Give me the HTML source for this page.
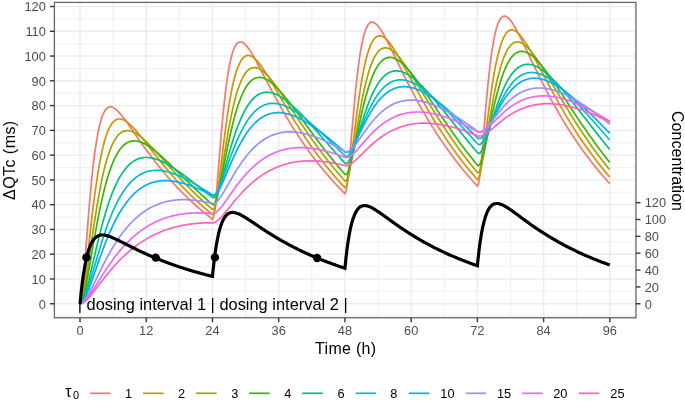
<!DOCTYPE html>
<html><head><meta charset="utf-8"><style>
html,body{margin:0;padding:0;background:#fff;}
svg{display:block;will-change:transform;font-family:"Liberation Sans",sans-serif;}
.tk{font-size:12.8px;fill:#4d4d4d;}
.ti{font-size:16px;fill:#000;}
.lg{font-size:12.8px;fill:#000;}
.ann{font-size:16.4px;fill:#000;}
</style></head><body>
<svg width="685" height="401" viewBox="0 0 685 401">
<rect width="685" height="401" fill="#fff"/>
<line x1="54.4" x2="635.96" y1="316.13" y2="316.13" stroke="#ebebeb" stroke-width="0.75"/>
<line x1="54.4" x2="635.96" y1="291.37" y2="291.37" stroke="#ebebeb" stroke-width="0.75"/>
<line x1="54.4" x2="635.96" y1="266.60" y2="266.60" stroke="#ebebeb" stroke-width="0.75"/>
<line x1="54.4" x2="635.96" y1="241.82" y2="241.82" stroke="#ebebeb" stroke-width="0.75"/>
<line x1="54.4" x2="635.96" y1="217.06" y2="217.06" stroke="#ebebeb" stroke-width="0.75"/>
<line x1="54.4" x2="635.96" y1="192.29" y2="192.29" stroke="#ebebeb" stroke-width="0.75"/>
<line x1="54.4" x2="635.96" y1="167.52" y2="167.52" stroke="#ebebeb" stroke-width="0.75"/>
<line x1="54.4" x2="635.96" y1="142.75" y2="142.75" stroke="#ebebeb" stroke-width="0.75"/>
<line x1="54.4" x2="635.96" y1="117.98" y2="117.98" stroke="#ebebeb" stroke-width="0.75"/>
<line x1="54.4" x2="635.96" y1="93.21" y2="93.21" stroke="#ebebeb" stroke-width="0.75"/>
<line x1="54.4" x2="635.96" y1="68.44" y2="68.44" stroke="#ebebeb" stroke-width="0.75"/>
<line x1="54.4" x2="635.96" y1="43.67" y2="43.67" stroke="#ebebeb" stroke-width="0.75"/>
<line x1="54.4" x2="635.96" y1="18.90" y2="18.90" stroke="#ebebeb" stroke-width="0.75"/>
<line y1="2.4" y2="317.76" x1="113.12" x2="113.12" stroke="#ebebeb" stroke-width="0.75"/>
<line y1="2.4" y2="317.76" x1="179.34" x2="179.34" stroke="#ebebeb" stroke-width="0.75"/>
<line y1="2.4" y2="317.76" x1="245.58" x2="245.58" stroke="#ebebeb" stroke-width="0.75"/>
<line y1="2.4" y2="317.76" x1="311.81" x2="311.81" stroke="#ebebeb" stroke-width="0.75"/>
<line y1="2.4" y2="317.76" x1="378.04" x2="378.04" stroke="#ebebeb" stroke-width="0.75"/>
<line y1="2.4" y2="317.76" x1="444.27" x2="444.27" stroke="#ebebeb" stroke-width="0.75"/>
<line y1="2.4" y2="317.76" x1="510.50" x2="510.50" stroke="#ebebeb" stroke-width="0.75"/>
<line y1="2.4" y2="317.76" x1="576.73" x2="576.73" stroke="#ebebeb" stroke-width="0.75"/>
<line x1="54.4" x2="635.96" y1="303.75" y2="303.75" stroke="#ebebeb" stroke-width="1.4"/>
<line x1="54.4" x2="635.96" y1="278.98" y2="278.98" stroke="#ebebeb" stroke-width="1.4"/>
<line x1="54.4" x2="635.96" y1="254.21" y2="254.21" stroke="#ebebeb" stroke-width="1.4"/>
<line x1="54.4" x2="635.96" y1="229.44" y2="229.44" stroke="#ebebeb" stroke-width="1.4"/>
<line x1="54.4" x2="635.96" y1="204.67" y2="204.67" stroke="#ebebeb" stroke-width="1.4"/>
<line x1="54.4" x2="635.96" y1="179.90" y2="179.90" stroke="#ebebeb" stroke-width="1.4"/>
<line x1="54.4" x2="635.96" y1="155.13" y2="155.13" stroke="#ebebeb" stroke-width="1.4"/>
<line x1="54.4" x2="635.96" y1="130.36" y2="130.36" stroke="#ebebeb" stroke-width="1.4"/>
<line x1="54.4" x2="635.96" y1="105.59" y2="105.59" stroke="#ebebeb" stroke-width="1.4"/>
<line x1="54.4" x2="635.96" y1="80.82" y2="80.82" stroke="#ebebeb" stroke-width="1.4"/>
<line x1="54.4" x2="635.96" y1="56.05" y2="56.05" stroke="#ebebeb" stroke-width="1.4"/>
<line x1="54.4" x2="635.96" y1="31.28" y2="31.28" stroke="#ebebeb" stroke-width="1.4"/>
<line x1="54.4" x2="635.96" y1="6.51" y2="6.51" stroke="#ebebeb" stroke-width="1.4"/>
<line y1="2.4" y2="317.76" x1="80.00" x2="80.00" stroke="#ebebeb" stroke-width="1.4"/>
<line y1="2.4" y2="317.76" x1="146.23" x2="146.23" stroke="#ebebeb" stroke-width="1.4"/>
<line y1="2.4" y2="317.76" x1="212.46" x2="212.46" stroke="#ebebeb" stroke-width="1.4"/>
<line y1="2.4" y2="317.76" x1="278.69" x2="278.69" stroke="#ebebeb" stroke-width="1.4"/>
<line y1="2.4" y2="317.76" x1="344.92" x2="344.92" stroke="#ebebeb" stroke-width="1.4"/>
<line y1="2.4" y2="317.76" x1="411.15" x2="411.15" stroke="#ebebeb" stroke-width="1.4"/>
<line y1="2.4" y2="317.76" x1="477.38" x2="477.38" stroke="#ebebeb" stroke-width="1.4"/>
<line y1="2.4" y2="317.76" x1="543.61" x2="543.61" stroke="#ebebeb" stroke-width="1.4"/>
<line y1="2.4" y2="317.76" x1="609.84" x2="609.84" stroke="#ebebeb" stroke-width="1.4"/>
<path d="M80.0,303.8L81.1,300.7L82.2,292.7L83.3,281.6L84.4,268.5L85.5,254.4L86.6,239.9L87.7,225.6L88.8,211.8L89.9,198.8L91.0,186.6L92.1,175.4L93.2,165.2L94.3,156.1L95.5,147.9L96.6,140.7L97.7,134.3L98.8,128.8L99.9,124.1L101.0,120.1L102.1,116.8L103.2,114.0L104.3,111.8L105.4,110.1L106.5,108.7L107.6,107.8L108.7,107.2L109.8,106.9L110.9,106.9L112.0,107.1L113.1,107.6L114.2,108.2L115.3,108.9L116.4,109.8L117.5,110.8L118.6,111.9L119.7,113.1L120.8,114.4L121.9,115.8L123.0,117.2L124.2,118.6L125.3,120.1L126.4,121.6L127.5,123.1L128.6,124.7L129.7,126.3L130.8,127.8L131.9,129.4L133.0,131.0L134.1,132.6L135.2,134.2L136.3,135.8L137.4,137.4L138.5,139.0L139.6,140.6L140.7,142.1L141.8,143.7L142.9,145.3L144.0,146.8L145.1,148.3L146.2,149.8L147.3,151.4L148.4,152.8L149.5,154.3L150.6,155.8L151.7,157.3L152.9,158.7L154.0,160.1L155.1,161.6L156.2,163.0L157.3,164.4L158.4,165.7L159.5,167.1L160.6,168.5L161.7,169.8L162.8,171.1L163.9,172.5L165.0,173.8L166.1,175.0L167.2,176.3L168.3,177.6L169.4,178.8L170.5,180.1L171.6,181.3L172.7,182.5L173.8,183.7L174.9,184.9L176.0,186.1L177.1,187.3L178.2,188.4L179.3,189.6L180.4,190.7L181.6,191.9L182.7,193.0L183.8,194.1L184.9,195.2L186.0,196.2L187.1,197.3L188.2,198.4L189.3,199.4L190.4,200.5L191.5,201.5L192.6,202.5L193.7,203.5L194.8,204.5L195.9,205.5L197.0,206.5L198.1,207.4L199.2,208.4L200.3,209.3L201.4,210.3L202.5,211.2L203.6,212.1L204.7,213.0L205.8,213.9L206.9,214.8L208.0,215.7L209.1,216.6L210.3,217.5L211.4,218.3L212.5,219.2L213.6,216.9L214.7,209.8L215.8,199.5L216.9,187.3L218.0,173.9L219.1,160.3L220.2,146.8L221.3,133.8L222.4,121.5L223.5,110.1L224.6,99.7L225.7,90.2L226.8,81.8L227.9,74.4L229.0,67.9L230.1,62.3L231.2,57.5L232.3,53.5L233.4,50.2L234.5,47.5L235.6,45.5L236.7,43.9L237.8,42.9L239.0,42.2L240.1,42.0L241.2,42.0L242.3,42.4L243.4,43.0L244.5,43.9L245.6,44.9L246.7,46.1L247.8,47.5L248.9,49.0L250.0,50.6L251.1,52.3L252.2,54.1L253.3,56.0L254.4,57.9L255.5,59.9L256.6,61.9L257.7,64.0L258.8,66.0L259.9,68.1L261.0,70.2L262.1,72.3L263.2,74.5L264.3,76.6L265.4,78.7L266.5,80.8L267.7,82.9L268.8,85.0L269.9,87.1L271.0,89.2L272.1,91.3L273.2,93.3L274.3,95.4L275.4,97.4L276.5,99.4L277.6,101.4L278.7,103.4L279.8,105.4L280.9,107.4L282.0,109.3L283.1,111.2L284.2,113.1L285.3,115.0L286.4,116.9L287.5,118.7L288.6,120.5L289.7,122.4L290.8,124.2L291.9,125.9L293.0,127.7L294.1,129.5L295.2,131.2L296.4,132.9L297.5,134.6L298.6,136.3L299.7,137.9L300.8,139.6L301.9,141.2L303.0,142.8L304.1,144.4L305.2,146.0L306.3,147.6L307.4,149.1L308.5,150.7L309.6,152.2L310.7,153.7L311.8,155.2L312.9,156.7L314.0,158.1L315.1,159.6L316.2,161.0L317.3,162.4L318.4,163.9L319.5,165.2L320.6,166.6L321.7,168.0L322.8,169.3L323.9,170.7L325.1,172.0L326.2,173.3L327.3,174.6L328.4,175.9L329.5,177.2L330.6,178.4L331.7,179.7L332.8,180.9L333.9,182.1L335.0,183.3L336.1,184.5L337.2,185.7L338.3,186.9L339.4,188.1L340.5,189.2L341.6,190.4L342.7,191.5L343.8,192.6L344.9,193.7L346.0,191.7L347.1,184.9L348.2,174.8L349.3,162.8L350.4,149.7L351.5,136.3L352.6,123.0L353.8,110.3L354.9,98.2L356.0,87.0L357.1,76.8L358.2,67.6L359.3,59.4L360.4,52.2L361.5,45.9L362.6,40.6L363.7,36.0L364.8,32.2L365.9,29.1L367.0,26.7L368.1,24.8L369.2,23.5L370.3,22.6L371.4,22.2L372.5,22.1L373.6,22.4L374.7,22.9L375.8,23.8L376.9,24.8L378.0,26.0L379.1,27.4L380.2,29.0L381.3,30.7L382.5,32.5L383.6,34.4L384.7,36.4L385.8,38.4L386.9,40.5L388.0,42.7L389.1,44.8L390.2,47.1L391.3,49.3L392.4,51.6L393.5,53.8L394.6,56.1L395.7,58.4L396.8,60.7L397.9,62.9L399.0,65.2L400.1,67.5L401.2,69.7L402.3,72.0L403.4,74.2L404.5,76.4L405.6,78.6L406.7,80.8L407.8,83.0L408.9,85.2L410.0,87.3L411.2,89.4L412.3,91.6L413.4,93.6L414.5,95.7L415.6,97.8L416.7,99.8L417.8,101.8L418.9,103.8L420.0,105.8L421.1,107.8L422.2,109.7L423.3,111.6L424.4,113.5L425.5,115.4L426.6,117.3L427.7,119.2L428.8,121.0L429.9,122.8L431.0,124.6L432.1,126.4L433.2,128.1L434.3,129.9L435.4,131.6L436.5,133.3L437.6,135.0L438.7,136.7L439.8,138.4L441.0,140.0L442.1,141.6L443.2,143.3L444.3,144.8L445.4,146.4L446.5,148.0L447.6,149.5L448.7,151.1L449.8,152.6L450.9,154.1L452.0,155.6L453.1,157.1L454.2,158.5L455.3,160.0L456.4,161.4L457.5,162.8L458.6,164.2L459.7,165.6L460.8,167.0L461.9,168.3L463.0,169.7L464.1,171.0L465.2,172.3L466.3,173.7L467.4,174.9L468.5,176.2L469.7,177.5L470.8,178.8L471.9,180.0L473.0,181.2L474.1,182.4L475.2,183.7L476.3,184.8L477.4,186.0L478.5,184.1L479.6,177.3L480.7,167.4L481.8,155.4L482.9,142.4L484.0,129.1L485.1,115.9L486.2,103.2L487.3,91.2L488.4,80.1L489.5,70.0L490.6,60.8L491.7,52.7L492.8,45.6L493.9,39.3L495.0,34.0L496.1,29.5L497.2,25.8L498.4,22.8L499.5,20.4L500.6,18.6L501.7,17.3L502.8,16.5L503.9,16.1L505.0,16.1L506.1,16.5L507.2,17.1L508.3,18.0L509.4,19.1L510.5,20.4L511.6,21.8L512.7,23.4L513.8,25.2L514.9,27.0L516.0,29.0L517.1,31.0L518.2,33.1L519.3,35.3L520.4,37.5L521.5,39.7L522.6,42.0L523.7,44.3L524.8,46.6L525.9,48.9L527.1,51.2L528.2,53.5L529.3,55.9L530.4,58.2L531.5,60.5L532.6,62.8L533.7,65.1L534.8,67.4L535.9,69.7L537.0,72.0L538.1,74.2L539.2,76.5L540.3,78.7L541.4,80.9L542.5,83.1L543.6,85.2L544.7,87.4L545.8,89.5L546.9,91.6L548.0,93.7L549.1,95.8L550.2,97.9L551.3,99.9L552.4,101.9L553.5,103.9L554.6,105.9L555.8,107.9L556.9,109.8L558.0,111.7L559.1,113.6L560.2,115.5L561.3,117.4L562.4,119.3L563.5,121.1L564.6,122.9L565.7,124.7L566.8,126.5L567.9,128.2L569.0,130.0L570.1,131.7L571.2,133.4L572.3,135.1L573.4,136.8L574.5,138.5L575.6,140.1L576.7,141.7L577.8,143.3L578.9,144.9L580.0,146.5L581.1,148.1L582.2,149.6L583.3,151.2L584.5,152.7L585.6,154.2L586.7,155.7L587.8,157.1L588.9,158.6L590.0,160.0L591.1,161.5L592.2,162.9L593.3,164.3L594.4,165.7L595.5,167.1L596.6,168.4L597.7,169.8L598.8,171.1L599.9,172.4L601.0,173.7L602.1,175.0L603.2,176.3L604.3,177.6L605.4,178.8L606.5,180.1L607.6,181.3L608.7,182.5L609.8,183.7" fill="none" stroke="#F8766D" stroke-width="1.7" stroke-linejoin="miter" stroke-miterlimit="6"/>
<path d="M80.0,303.8L81.1,302.2L82.2,297.9L83.3,291.6L84.4,283.8L85.5,274.9L86.6,265.4L87.7,255.5L88.8,245.4L89.9,235.3L91.0,225.5L92.1,215.9L93.2,206.7L94.3,198.0L95.5,189.7L96.6,181.9L97.7,174.7L98.8,167.9L99.9,161.8L101.0,156.1L102.1,150.9L103.2,146.2L104.3,142.0L105.4,138.2L106.5,134.8L107.6,131.9L108.7,129.3L109.8,127.0L110.9,125.1L112.0,123.5L113.1,122.1L114.2,121.1L115.3,120.2L116.4,119.6L117.5,119.2L118.6,119.0L119.7,119.0L120.8,119.1L121.9,119.3L123.0,119.7L124.2,120.2L125.3,120.9L126.4,121.6L127.5,122.4L128.6,123.3L129.7,124.2L130.8,125.3L131.9,126.3L133.0,127.5L134.1,128.6L135.2,129.9L136.3,131.1L137.4,132.4L138.5,133.7L139.6,135.0L140.7,136.4L141.8,137.7L142.9,139.1L144.0,140.5L145.1,141.9L146.2,143.3L147.3,144.7L148.4,146.1L149.5,147.6L150.6,149.0L151.7,150.4L152.9,151.8L154.0,153.2L155.1,154.6L156.2,156.0L157.3,157.4L158.4,158.8L159.5,160.2L160.6,161.5L161.7,162.9L162.8,164.3L163.9,165.6L165.0,166.9L166.1,168.3L167.2,169.6L168.3,170.9L169.4,172.2L170.5,173.5L171.6,174.7L172.7,176.0L173.8,177.3L174.9,178.5L176.0,179.7L177.1,181.0L178.2,182.2L179.3,183.4L180.4,184.6L181.6,185.7L182.7,186.9L183.8,188.0L184.9,189.2L186.0,190.3L187.1,191.5L188.2,192.6L189.3,193.7L190.4,194.8L191.5,195.8L192.6,196.9L193.7,198.0L194.8,199.0L195.9,200.1L197.0,201.1L198.1,202.1L199.2,203.1L200.3,204.1L201.4,205.1L202.5,206.1L203.6,207.1L204.7,208.0L205.8,209.0L206.9,209.9L208.0,210.8L209.1,211.8L210.3,212.7L211.4,213.6L212.5,214.5L213.6,213.8L214.7,210.4L215.8,204.9L216.9,198.0L218.0,190.0L219.1,181.3L220.2,172.2L221.3,163.0L222.4,153.8L223.5,144.7L224.6,135.9L225.7,127.5L226.8,119.6L227.9,112.1L229.0,105.1L230.1,98.6L231.2,92.6L232.3,87.2L233.4,82.3L234.5,77.8L235.6,73.8L236.7,70.3L237.8,67.3L239.0,64.6L240.1,62.3L241.2,60.4L242.3,58.9L243.4,57.6L244.5,56.7L245.6,56.0L246.7,55.6L247.8,55.4L248.9,55.4L250.0,55.7L251.1,56.1L252.2,56.7L253.3,57.4L254.4,58.3L255.5,59.3L256.6,60.4L257.7,61.6L258.8,62.9L259.9,64.3L261.0,65.8L262.1,67.3L263.2,68.9L264.3,70.5L265.4,72.2L266.5,74.0L267.7,75.7L268.8,77.5L269.9,79.3L271.0,81.2L272.1,83.0L273.2,84.9L274.3,86.8L275.4,88.6L276.5,90.5L277.6,92.4L278.7,94.3L279.8,96.2L280.9,98.1L282.0,100.0L283.1,101.9L284.2,103.8L285.3,105.7L286.4,107.5L287.5,109.4L288.6,111.2L289.7,113.1L290.8,114.9L291.9,116.7L293.0,118.5L294.1,120.3L295.2,122.1L296.4,123.9L297.5,125.6L298.6,127.3L299.7,129.1L300.8,130.8L301.9,132.5L303.0,134.1L304.1,135.8L305.2,137.5L306.3,139.1L307.4,140.7L308.5,142.3L309.6,143.9L310.7,145.5L311.8,147.1L312.9,148.6L314.0,150.2L315.1,151.7L316.2,153.2L317.3,154.7L318.4,156.1L319.5,157.6L320.6,159.1L321.7,160.5L322.8,161.9L323.9,163.3L325.1,164.7L326.2,166.1L327.3,167.5L328.4,168.8L329.5,170.2L330.6,171.5L331.7,172.8L332.8,174.1L333.9,175.4L335.0,176.7L336.1,177.9L337.2,179.2L338.3,180.4L339.4,181.6L340.5,182.9L341.6,184.1L342.7,185.3L343.8,186.4L344.9,187.6L346.0,187.2L347.1,184.0L348.2,178.8L349.3,172.2L350.4,164.4L351.5,156.0L352.6,147.2L353.8,138.2L354.9,129.2L356.0,120.4L357.1,111.9L358.2,103.7L359.3,96.0L360.4,88.7L361.5,81.9L362.6,75.7L363.7,70.0L364.8,64.7L365.9,60.0L367.0,55.8L368.1,52.0L369.2,48.8L370.3,45.9L371.4,43.4L372.5,41.4L373.6,39.7L374.7,38.3L375.8,37.3L376.9,36.6L378.0,36.1L379.1,35.9L380.2,35.9L381.3,36.1L382.5,36.5L383.6,37.2L384.7,37.9L385.8,38.8L386.9,39.9L388.0,41.1L389.1,42.4L390.2,43.8L391.3,45.3L392.4,46.8L393.5,48.5L394.6,50.2L395.7,51.9L396.8,53.7L397.9,55.6L399.0,57.5L400.1,59.4L401.2,61.4L402.3,63.3L403.4,65.3L404.5,67.3L405.6,69.4L406.7,71.4L407.8,73.4L408.9,75.5L410.0,77.5L411.2,79.6L412.3,81.6L413.4,83.7L414.5,85.7L415.6,87.7L416.7,89.8L417.8,91.8L418.9,93.8L420.0,95.8L421.1,97.8L422.2,99.7L423.3,101.7L424.4,103.6L425.5,105.6L426.6,107.5L427.7,109.4L428.8,111.3L429.9,113.2L431.0,115.0L432.1,116.9L433.2,118.7L434.3,120.5L435.4,122.3L436.5,124.1L437.6,125.9L438.7,127.6L439.8,129.3L441.0,131.1L442.1,132.8L443.2,134.5L444.3,136.1L445.4,137.8L446.5,139.4L447.6,141.1L448.7,142.7L449.8,144.3L450.9,145.9L452.0,147.4L453.1,149.0L454.2,150.5L455.3,152.0L456.4,153.5L457.5,155.0L458.6,156.5L459.7,158.0L460.8,159.4L461.9,160.8L463.0,162.3L464.1,163.7L465.2,165.1L466.3,166.4L467.4,167.8L468.5,169.2L469.7,170.5L470.8,171.8L471.9,173.1L473.0,174.4L474.1,175.7L475.2,177.0L476.3,178.2L477.4,179.5L478.5,179.1L479.6,176.1L480.7,171.0L481.8,164.4L482.9,156.7L484.0,148.4L485.1,139.6L486.2,130.7L487.3,121.8L488.4,113.1L489.5,104.6L490.6,96.5L491.7,88.9L492.8,81.7L493.9,75.0L495.0,68.8L496.1,63.1L497.2,58.0L498.4,53.3L499.5,49.2L500.6,45.5L501.7,42.3L502.8,39.5L503.9,37.1L505.0,35.1L506.1,33.4L507.2,32.2L508.3,31.2L509.4,30.5L510.5,30.1L511.6,29.9L512.7,30.0L513.8,30.3L514.9,30.8L516.0,31.4L517.1,32.3L518.2,33.3L519.3,34.4L520.4,35.6L521.5,37.0L522.6,38.4L523.7,39.9L524.8,41.6L525.9,43.3L527.1,45.0L528.2,46.8L529.3,48.7L530.4,50.6L531.5,52.5L532.6,54.5L533.7,56.5L534.8,58.5L535.9,60.6L537.0,62.6L538.1,64.7L539.2,66.8L540.3,68.9L541.4,70.9L542.5,73.0L543.6,75.1L544.7,77.2L545.8,79.3L546.9,81.4L548.0,83.5L549.1,85.5L550.2,87.6L551.3,89.6L552.4,91.7L553.5,93.7L554.6,95.7L555.8,97.7L556.9,99.7L558.0,101.7L559.1,103.6L560.2,105.6L561.3,107.5L562.4,109.4L563.5,111.3L564.6,113.2L565.7,115.1L566.8,116.9L567.9,118.7L569.0,120.6L570.1,122.4L571.2,124.1L572.3,125.9L573.4,127.7L574.5,129.4L575.6,131.1L576.7,132.8L577.8,134.5L578.9,136.2L580.0,137.9L581.1,139.5L582.2,141.1L583.3,142.7L584.5,144.3L585.6,145.9L586.7,147.5L587.8,149.0L588.9,150.6L590.0,152.1L591.1,153.6L592.2,155.1L593.3,156.6L594.4,158.0L595.5,159.5L596.6,160.9L597.7,162.3L598.8,163.7L599.9,165.1L601.0,166.5L602.1,167.9L603.2,169.2L604.3,170.6L605.4,171.9L606.5,173.2L607.6,174.5L608.7,175.8L609.8,177.1" fill="none" stroke="#D89000" stroke-width="1.7" stroke-linejoin="miter" stroke-miterlimit="6"/>
<path d="M80.0,303.8L81.1,302.7L82.2,299.7L83.3,295.3L84.4,289.8L85.5,283.4L86.6,276.4L87.7,269.0L88.8,261.3L89.9,253.5L91.0,245.6L92.1,237.8L93.2,230.2L94.3,222.7L95.5,215.5L96.6,208.6L97.7,202.0L98.8,195.7L99.9,189.7L101.0,184.0L102.1,178.7L103.2,173.7L104.3,169.1L105.4,164.8L106.5,160.8L107.6,157.1L108.7,153.7L109.8,150.6L110.9,147.8L112.0,145.2L113.1,142.9L114.2,140.8L115.3,139.0L116.4,137.4L117.5,136.0L118.6,134.7L119.7,133.7L120.8,132.8L121.9,132.1L123.0,131.6L124.2,131.1L125.3,130.9L126.4,130.7L127.5,130.7L128.6,130.7L129.7,130.9L130.8,131.2L131.9,131.5L133.0,131.9L134.1,132.5L135.2,133.0L136.3,133.7L137.4,134.4L138.5,135.1L139.6,135.9L140.7,136.8L141.8,137.7L142.9,138.6L144.0,139.6L145.1,140.6L146.2,141.7L147.3,142.7L148.4,143.8L149.5,144.9L150.6,146.0L151.7,147.2L152.9,148.4L154.0,149.5L155.1,150.7L156.2,151.9L157.3,153.1L158.4,154.3L159.5,155.6L160.6,156.8L161.7,158.0L162.8,159.2L163.9,160.5L165.0,161.7L166.1,163.0L167.2,164.2L168.3,165.4L169.4,166.7L170.5,167.9L171.6,169.1L172.7,170.3L173.8,171.5L174.9,172.7L176.0,174.0L177.1,175.2L178.2,176.3L179.3,177.5L180.4,178.7L181.6,179.9L182.7,181.1L183.8,182.2L184.9,183.4L186.0,184.5L187.1,185.6L188.2,186.8L189.3,187.9L190.4,189.0L191.5,190.1L192.6,191.2L193.7,192.3L194.8,193.4L195.9,194.4L197.0,195.5L198.1,196.5L199.2,197.6L200.3,198.6L201.4,199.6L202.5,200.7L203.6,201.7L204.7,202.7L205.8,203.7L206.9,204.6L208.0,205.6L209.1,206.6L210.3,207.5L211.4,208.5L212.5,209.4L213.6,209.3L214.7,207.3L215.8,203.8L216.9,199.1L218.0,193.7L219.1,187.5L220.2,181.0L221.3,174.2L222.4,167.2L223.5,160.2L224.6,153.2L225.7,146.4L226.8,139.8L227.9,133.4L229.0,127.3L230.1,121.5L231.2,116.0L232.3,110.8L233.4,105.9L234.5,101.4L235.6,97.2L236.7,93.3L237.8,89.7L239.0,86.5L240.1,83.5L241.2,80.9L242.3,78.5L243.4,76.4L244.5,74.5L245.6,72.9L246.7,71.5L247.8,70.4L248.9,69.5L250.0,68.7L251.1,68.2L252.2,67.8L253.3,67.6L254.4,67.5L255.5,67.6L256.6,67.8L257.7,68.1L258.8,68.6L259.9,69.2L261.0,69.9L262.1,70.6L263.2,71.5L264.3,72.4L265.4,73.5L266.5,74.6L267.7,75.7L268.8,76.9L269.9,78.2L271.0,79.5L272.1,80.9L273.2,82.3L274.3,83.7L275.4,85.2L276.5,86.7L277.6,88.2L278.7,89.8L279.8,91.4L280.9,93.0L282.0,94.6L283.1,96.2L284.2,97.8L285.3,99.5L286.4,101.2L287.5,102.8L288.6,104.5L289.7,106.2L290.8,107.9L291.9,109.6L293.0,111.2L294.1,112.9L295.2,114.6L296.4,116.3L297.5,118.0L298.6,119.6L299.7,121.3L300.8,122.9L301.9,124.6L303.0,126.2L304.1,127.9L305.2,129.5L306.3,131.1L307.4,132.8L308.5,134.4L309.6,135.9L310.7,137.5L311.8,139.1L312.9,140.7L314.0,142.2L315.1,143.8L316.2,145.3L317.3,146.8L318.4,148.3L319.5,149.8L320.6,151.3L321.7,152.8L322.8,154.2L323.9,155.7L325.1,157.1L326.2,158.5L327.3,160.0L328.4,161.4L329.5,162.7L330.6,164.1L331.7,165.5L332.8,166.8L333.9,168.2L335.0,169.5L336.1,170.8L337.2,172.1L338.3,173.4L339.4,174.7L340.5,176.0L341.6,177.2L342.7,178.5L343.8,179.7L344.9,180.9L346.0,181.1L347.1,179.3L348.2,176.1L349.3,171.8L350.4,166.6L351.5,160.7L352.6,154.4L353.8,147.9L354.9,141.2L356.0,134.4L357.1,127.7L358.2,121.2L359.3,114.8L360.4,108.7L361.5,102.8L362.6,97.2L363.7,92.0L364.8,87.0L365.9,82.4L367.0,78.1L368.1,74.1L369.2,70.4L370.3,67.1L371.4,64.1L372.5,61.3L373.6,58.9L374.7,56.7L375.8,54.9L376.9,53.2L378.0,51.8L379.1,50.7L380.2,49.7L381.3,49.0L382.5,48.4L383.6,48.1L384.7,47.9L385.8,47.9L386.9,48.0L388.0,48.3L389.1,48.7L390.2,49.2L391.3,49.9L392.4,50.7L393.5,51.5L394.6,52.5L395.7,53.5L396.8,54.6L397.9,55.8L399.0,57.1L400.1,58.4L401.2,59.8L402.3,61.3L403.4,62.7L404.5,64.3L405.6,65.8L406.7,67.4L407.8,69.1L408.9,70.7L410.0,72.4L411.2,74.2L412.3,75.9L413.4,77.6L414.5,79.4L415.6,81.2L416.7,83.0L417.8,84.8L418.9,86.6L420.0,88.4L421.1,90.2L422.2,92.1L423.3,93.9L424.4,95.7L425.5,97.5L426.6,99.3L427.7,101.2L428.8,103.0L429.9,104.8L431.0,106.6L432.1,108.4L433.2,110.2L434.3,111.9L435.4,113.7L436.5,115.5L437.6,117.2L438.7,119.0L439.8,120.7L441.0,122.4L442.1,124.1L443.2,125.8L444.3,127.5L445.4,129.2L446.5,130.9L447.6,132.5L448.7,134.2L449.8,135.8L450.9,137.4L452.0,139.0L453.1,140.6L454.2,142.2L455.3,143.8L456.4,145.3L457.5,146.9L458.6,148.4L459.7,149.9L460.8,151.4L461.9,152.9L463.0,154.4L464.1,155.8L465.2,157.3L466.3,158.7L467.4,160.1L468.5,161.5L469.7,162.9L470.8,164.3L471.9,165.7L473.0,167.1L474.1,168.4L475.2,169.7L476.3,171.1L477.4,172.4L478.5,172.6L479.6,170.9L480.7,167.8L481.8,163.6L482.9,158.4L484.0,152.6L485.1,146.4L486.2,140.0L487.3,133.3L488.4,126.7L489.5,120.1L490.6,113.6L491.7,107.3L492.8,101.2L493.9,95.4L495.0,89.9L496.1,84.7L497.2,79.8L498.4,75.3L499.5,71.0L500.6,67.1L501.7,63.6L502.8,60.3L503.9,57.3L505.0,54.7L506.1,52.3L507.2,50.2L508.3,48.4L509.4,46.8L510.5,45.5L511.6,44.4L512.7,43.5L513.8,42.8L514.9,42.3L516.0,42.0L517.1,41.9L518.2,42.0L519.3,42.2L520.4,42.5L521.5,43.0L522.6,43.6L523.7,44.3L524.8,45.1L525.9,46.0L527.1,47.0L528.2,48.1L529.3,49.3L530.4,50.5L531.5,51.9L532.6,53.2L533.7,54.7L534.8,56.2L535.9,57.7L537.0,59.3L538.1,60.9L539.2,62.5L540.3,64.2L541.4,65.9L542.5,67.7L543.6,69.4L544.7,71.2L545.8,73.0L546.9,74.8L548.0,76.7L549.1,78.5L550.2,80.4L551.3,82.2L552.4,84.1L553.5,85.9L554.6,87.8L555.8,89.7L556.9,91.5L558.0,93.4L559.1,95.2L560.2,97.1L561.3,99.0L562.4,100.8L563.5,102.6L564.6,104.5L565.7,106.3L566.8,108.1L567.9,109.9L569.0,111.7L570.1,113.5L571.2,115.3L572.3,117.1L573.4,118.8L574.5,120.6L575.6,122.3L576.7,124.0L577.8,125.8L578.9,127.5L580.0,129.1L581.1,130.8L582.2,132.5L583.3,134.1L584.5,135.8L585.6,137.4L586.7,139.0L587.8,140.6L588.9,142.2L590.0,143.8L591.1,145.3L592.2,146.9L593.3,148.4L594.4,149.9L595.5,151.4L596.6,152.9L597.7,154.4L598.8,155.9L599.9,157.3L601.0,158.7L602.1,160.2L603.2,161.6L604.3,163.0L605.4,164.4L606.5,165.7L607.6,167.1L608.7,168.5L609.8,169.8" fill="none" stroke="#A3A500" stroke-width="1.7" stroke-linejoin="miter" stroke-miterlimit="6"/>
<path d="M80.0,303.8L81.1,302.9L82.2,300.7L83.3,297.3L84.4,293.1L85.5,288.1L86.6,282.6L87.7,276.6L88.8,270.4L89.9,264.1L91.0,257.6L92.1,251.2L93.2,244.7L94.3,238.4L95.5,232.2L96.6,226.1L97.7,220.2L98.8,214.6L99.9,209.1L101.0,203.9L102.1,198.9L103.2,194.2L104.3,189.7L105.4,185.4L106.5,181.4L107.6,177.6L108.7,174.0L109.8,170.7L110.9,167.6L112.0,164.7L113.1,162.0L114.2,159.5L115.3,157.2L116.4,155.1L117.5,153.1L118.6,151.4L119.7,149.8L120.8,148.3L121.9,147.0L123.0,145.9L124.2,144.9L125.3,144.0L126.4,143.2L127.5,142.6L128.6,142.1L129.7,141.6L130.8,141.3L131.9,141.1L133.0,140.9L134.1,140.9L135.2,140.9L136.3,141.0L137.4,141.2L138.5,141.4L139.6,141.7L140.7,142.1L141.8,142.5L142.9,143.0L144.0,143.5L145.1,144.1L146.2,144.7L147.3,145.4L148.4,146.0L149.5,146.8L150.6,147.5L151.7,148.3L152.9,149.2L154.0,150.0L155.1,150.9L156.2,151.8L157.3,152.7L158.4,153.6L159.5,154.6L160.6,155.6L161.7,156.6L162.8,157.6L163.9,158.6L165.0,159.6L166.1,160.6L167.2,161.7L168.3,162.7L169.4,163.8L170.5,164.9L171.6,165.9L172.7,167.0L173.8,168.1L174.9,169.2L176.0,170.3L177.1,171.4L178.2,172.4L179.3,173.5L180.4,174.6L181.6,175.7L182.7,176.8L183.8,177.9L184.9,179.0L186.0,180.0L187.1,181.1L188.2,182.2L189.3,183.3L190.4,184.3L191.5,185.4L192.6,186.4L193.7,187.5L194.8,188.6L195.9,189.6L197.0,190.6L198.1,191.7L199.2,192.7L200.3,193.7L201.4,194.7L202.5,195.7L203.6,196.7L204.7,197.7L205.8,198.7L206.9,199.7L208.0,200.7L209.1,201.6L210.3,202.6L211.4,203.6L212.5,204.5L213.6,204.6L214.7,203.3L215.8,200.9L216.9,197.5L218.0,193.5L219.1,188.9L220.2,183.8L221.3,178.5L222.4,173.1L223.5,167.5L224.6,161.9L225.7,156.3L226.8,150.8L227.9,145.5L229.0,140.2L230.1,135.2L231.2,130.4L232.3,125.7L233.4,121.3L234.5,117.1L235.6,113.2L236.7,109.5L237.8,106.0L239.0,102.7L240.1,99.7L241.2,96.9L242.3,94.3L243.4,92.0L244.5,89.8L245.6,87.8L246.7,86.1L247.8,84.5L248.9,83.1L250.0,81.9L251.1,80.8L252.2,79.9L253.3,79.1L254.4,78.5L255.5,78.1L256.6,77.7L257.7,77.5L258.8,77.4L259.9,77.4L261.0,77.5L262.1,77.7L263.2,78.0L264.3,78.4L265.4,78.9L266.5,79.5L267.7,80.1L268.8,80.8L269.9,81.6L271.0,82.4L272.1,83.3L273.2,84.2L274.3,85.2L275.4,86.3L276.5,87.3L277.6,88.5L278.7,89.6L279.8,90.8L280.9,92.1L282.0,93.3L283.1,94.6L284.2,96.0L285.3,97.3L286.4,98.7L287.5,100.0L288.6,101.4L289.7,102.9L290.8,104.3L291.9,105.7L293.0,107.2L294.1,108.7L295.2,110.2L296.4,111.6L297.5,113.1L298.6,114.6L299.7,116.1L300.8,117.6L301.9,119.1L303.0,120.7L304.1,122.2L305.2,123.7L306.3,125.2L307.4,126.7L308.5,128.2L309.6,129.7L310.7,131.2L311.8,132.7L312.9,134.2L314.0,135.7L315.1,137.2L316.2,138.7L317.3,140.1L318.4,141.6L319.5,143.1L320.6,144.5L321.7,146.0L322.8,147.4L323.9,148.8L325.1,150.2L326.2,151.7L327.3,153.1L328.4,154.5L329.5,155.8L330.6,157.2L331.7,158.6L332.8,159.9L333.9,161.3L335.0,162.6L336.1,164.0L337.2,165.3L338.3,166.6L339.4,167.9L340.5,169.2L341.6,170.5L342.7,171.8L343.8,173.0L344.9,174.3L346.0,174.7L347.1,173.7L348.2,171.6L349.3,168.5L350.4,164.7L351.5,160.4L352.6,155.6L353.8,150.6L354.9,145.4L356.0,140.1L357.1,134.8L358.2,129.5L359.3,124.3L360.4,119.2L361.5,114.2L362.6,109.4L363.7,104.8L364.8,100.5L365.9,96.3L367.0,92.4L368.1,88.7L369.2,85.2L370.3,82.0L371.4,78.9L372.5,76.2L373.6,73.6L374.7,71.2L375.8,69.1L376.9,67.2L378.0,65.4L379.1,63.9L380.2,62.5L381.3,61.4L382.5,60.3L383.6,59.5L384.7,58.8L385.8,58.3L386.9,57.8L388.0,57.6L389.1,57.4L390.2,57.4L391.3,57.5L392.4,57.7L393.5,58.0L394.6,58.4L395.7,58.9L396.8,59.5L397.9,60.2L399.0,60.9L400.1,61.7L401.2,62.6L402.3,63.6L403.4,64.6L404.5,65.7L405.6,66.8L406.7,67.9L407.8,69.2L408.9,70.4L410.0,71.7L411.2,73.0L412.3,74.4L413.4,75.8L414.5,77.2L415.6,78.7L416.7,80.2L417.8,81.7L418.9,83.2L420.0,84.7L421.1,86.3L422.2,87.8L423.3,89.4L424.4,91.0L425.5,92.6L426.6,94.2L427.7,95.9L428.8,97.5L429.9,99.1L431.0,100.8L432.1,102.4L433.2,104.0L434.3,105.7L435.4,107.3L436.5,109.0L437.6,110.6L438.7,112.3L439.8,113.9L441.0,115.5L442.1,117.2L443.2,118.8L444.3,120.4L445.4,122.0L446.5,123.6L447.6,125.2L448.7,126.8L449.8,128.4L450.9,130.0L452.0,131.6L453.1,133.2L454.2,134.7L455.3,136.3L456.4,137.8L457.5,139.3L458.6,140.9L459.7,142.4L460.8,143.9L461.9,145.4L463.0,146.8L464.1,148.3L465.2,149.8L466.3,151.2L467.4,152.7L468.5,154.1L469.7,155.5L470.8,156.9L471.9,158.3L473.0,159.7L474.1,161.1L475.2,162.5L476.3,163.8L477.4,165.2L478.5,165.7L479.6,164.8L480.7,162.7L481.8,159.7L482.9,156.0L484.0,151.8L485.1,147.1L486.2,142.2L487.3,137.1L488.4,131.9L489.5,126.6L490.6,121.4L491.7,116.3L492.8,111.2L493.9,106.4L495.0,101.7L496.1,97.2L497.2,92.9L498.4,88.8L499.5,84.9L500.6,81.3L501.7,77.9L502.8,74.7L503.9,71.8L505.0,69.1L506.1,66.6L507.2,64.3L508.3,62.2L509.4,60.4L510.5,58.7L511.6,57.2L512.7,55.9L513.8,54.8L514.9,53.9L516.0,53.1L517.1,52.4L518.2,52.0L519.3,51.6L520.4,51.4L521.5,51.3L522.6,51.4L523.7,51.5L524.8,51.8L525.9,52.2L527.1,52.6L528.2,53.2L529.3,53.8L530.4,54.5L531.5,55.3L532.6,56.2L533.7,57.2L534.8,58.2L535.9,59.2L537.0,60.3L538.1,61.5L539.2,62.7L540.3,64.0L541.4,65.3L542.5,66.7L543.6,68.0L544.7,69.5L545.8,70.9L546.9,72.4L548.0,73.9L549.1,75.4L550.2,77.0L551.3,78.5L552.4,80.1L553.5,81.7L554.6,83.3L555.8,84.9L556.9,86.6L558.0,88.2L559.1,89.9L560.2,91.6L561.3,93.2L562.4,94.9L563.5,96.6L564.6,98.3L565.7,100.0L566.8,101.6L567.9,103.3L569.0,105.0L570.1,106.7L571.2,108.4L572.3,110.0L573.4,111.7L574.5,113.4L575.6,115.1L576.7,116.7L577.8,118.4L578.9,120.0L580.0,121.7L581.1,123.3L582.2,124.9L583.3,126.5L584.5,128.1L585.6,129.7L586.7,131.3L587.8,132.9L588.9,134.5L590.0,136.0L591.1,137.6L592.2,139.1L593.3,140.7L594.4,142.2L595.5,143.7L596.6,145.2L597.7,146.7L598.8,148.2L599.9,149.7L601.0,151.1L602.1,152.6L603.2,154.0L604.3,155.4L605.4,156.9L606.5,158.3L607.6,159.7L608.7,161.0L609.8,162.4" fill="none" stroke="#39B600" stroke-width="1.7" stroke-linejoin="miter" stroke-miterlimit="6"/>
<path d="M80.0,303.8L81.1,303.2L82.2,301.7L83.3,299.4L84.4,296.5L85.5,293.0L86.6,289.1L87.7,284.9L88.8,280.5L89.9,275.9L91.0,271.2L92.1,266.4L93.2,261.6L94.3,256.7L95.5,252.0L96.6,247.2L97.7,242.6L98.8,238.1L99.9,233.6L101.0,229.3L102.1,225.1L103.2,221.1L104.3,217.2L105.4,213.4L106.5,209.8L107.6,206.3L108.7,203.0L109.8,199.8L110.9,196.7L112.0,193.8L113.1,191.0L114.2,188.4L115.3,185.9L116.4,183.6L117.5,181.3L118.6,179.2L119.7,177.2L120.8,175.4L121.9,173.6L123.0,172.0L124.2,170.4L125.3,169.0L126.4,167.7L127.5,166.4L128.6,165.3L129.7,164.2L130.8,163.3L131.9,162.4L133.0,161.6L134.1,160.9L135.2,160.3L136.3,159.7L137.4,159.2L138.5,158.8L139.6,158.4L140.7,158.1L141.8,157.9L142.9,157.7L144.0,157.5L145.1,157.5L146.2,157.4L147.3,157.5L148.4,157.5L149.5,157.7L150.6,157.8L151.7,158.0L152.9,158.2L154.0,158.5L155.1,158.8L156.2,159.2L157.3,159.5L158.4,160.0L159.5,160.4L160.6,160.9L161.7,161.3L162.8,161.9L163.9,162.4L165.0,163.0L166.1,163.6L167.2,164.2L168.3,164.8L169.4,165.4L170.5,166.1L171.6,166.8L172.7,167.5L173.8,168.2L174.9,168.9L176.0,169.7L177.1,170.4L178.2,171.2L179.3,171.9L180.4,172.7L181.6,173.5L182.7,174.3L183.8,175.1L184.9,175.9L186.0,176.8L187.1,177.6L188.2,178.4L189.3,179.3L190.4,180.1L191.5,181.0L192.6,181.8L193.7,182.7L194.8,183.6L195.9,184.4L197.0,185.3L198.1,186.2L199.2,187.0L200.3,187.9L201.4,188.8L202.5,189.6L203.6,190.5L204.7,191.4L205.8,192.3L206.9,193.1L208.0,194.0L209.1,194.9L210.3,195.7L211.4,196.6L212.5,197.5L213.6,197.8L214.7,197.2L215.8,195.7L216.9,193.6L218.0,191.0L219.1,188.0L220.2,184.7L221.3,181.1L222.4,177.3L223.5,173.4L224.6,169.4L225.7,165.5L226.8,161.5L227.9,157.5L229.0,153.6L230.1,149.8L231.2,146.1L232.3,142.4L233.4,138.9L234.5,135.5L235.6,132.3L236.7,129.1L237.8,126.2L239.0,123.3L240.1,120.6L241.2,118.0L242.3,115.6L243.4,113.3L244.5,111.2L245.6,109.1L246.7,107.3L247.8,105.5L248.9,103.9L250.0,102.4L251.1,101.0L252.2,99.7L253.3,98.6L254.4,97.5L255.5,96.6L256.6,95.7L257.7,95.0L258.8,94.3L259.9,93.8L261.0,93.3L262.1,93.0L263.2,92.7L264.3,92.4L265.4,92.3L266.5,92.2L267.7,92.3L268.8,92.3L269.9,92.5L271.0,92.7L272.1,92.9L273.2,93.2L274.3,93.6L275.4,94.0L276.5,94.5L277.6,95.0L278.7,95.6L279.8,96.2L280.9,96.9L282.0,97.6L283.1,98.3L284.2,99.1L285.3,99.9L286.4,100.7L287.5,101.6L288.6,102.5L289.7,103.4L290.8,104.3L291.9,105.3L293.0,106.3L294.1,107.3L295.2,108.3L296.4,109.4L297.5,110.5L298.6,111.6L299.7,112.7L300.8,113.8L301.9,114.9L303.0,116.1L304.1,117.3L305.2,118.4L306.3,119.6L307.4,120.8L308.5,122.0L309.6,123.2L310.7,124.5L311.8,125.7L312.9,126.9L314.0,128.2L315.1,129.4L316.2,130.7L317.3,131.9L318.4,133.2L319.5,134.4L320.6,135.7L321.7,136.9L322.8,138.2L323.9,139.5L325.1,140.7L326.2,142.0L327.3,143.3L328.4,144.5L329.5,145.8L330.6,147.0L331.7,148.3L332.8,149.5L333.9,150.8L335.0,152.0L336.1,153.3L337.2,154.5L338.3,155.7L339.4,157.0L340.5,158.2L341.6,159.4L342.7,160.6L343.8,161.9L344.9,163.1L346.0,163.7L347.1,163.4L348.2,162.3L349.3,160.6L350.4,158.3L351.5,155.6L352.6,152.5L353.8,149.3L354.9,145.8L356.0,142.2L357.1,138.6L358.2,134.9L359.3,131.2L360.4,127.6L361.5,124.0L362.6,120.4L363.7,117.0L364.8,113.6L365.9,110.4L367.0,107.3L368.1,104.3L369.2,101.5L370.3,98.8L371.4,96.2L372.5,93.7L373.6,91.4L374.7,89.3L375.8,87.3L376.9,85.4L378.0,83.6L379.1,82.0L380.2,80.5L381.3,79.1L382.5,77.8L383.6,76.7L384.7,75.6L385.8,74.7L386.9,73.9L388.0,73.2L389.1,72.6L390.2,72.1L391.3,71.7L392.4,71.3L393.5,71.1L394.6,70.9L395.7,70.9L396.8,70.9L397.9,70.9L399.0,71.1L400.1,71.3L401.2,71.6L402.3,71.9L403.4,72.3L404.5,72.8L405.6,73.3L406.7,73.9L407.8,74.5L408.9,75.2L410.0,75.9L411.2,76.7L412.3,77.5L413.4,78.3L414.5,79.2L415.6,80.1L416.7,81.0L417.8,82.0L418.9,83.0L420.0,84.1L421.1,85.1L422.2,86.2L423.3,87.3L424.4,88.5L425.5,89.6L426.6,90.8L427.7,92.0L428.8,93.2L429.9,94.5L431.0,95.7L432.1,97.0L433.2,98.3L434.3,99.6L435.4,100.9L436.5,102.2L437.6,103.5L438.7,104.9L439.8,106.2L441.0,107.6L442.1,108.9L443.2,110.3L444.3,111.6L445.4,113.0L446.5,114.4L447.6,115.8L448.7,117.2L449.8,118.6L450.9,119.9L452.0,121.3L453.1,122.7L454.2,124.1L455.3,125.5L456.4,126.9L457.5,128.3L458.6,129.7L459.7,131.0L460.8,132.4L461.9,133.8L463.0,135.2L464.1,136.5L465.2,137.9L466.3,139.3L467.4,140.6L468.5,142.0L469.7,143.3L470.8,144.7L471.9,146.0L473.0,147.4L474.1,148.7L475.2,150.0L476.3,151.3L477.4,152.7L478.5,153.4L479.6,153.2L480.7,152.2L481.8,150.5L482.9,148.4L484.0,145.8L485.1,142.8L486.2,139.7L487.3,136.3L488.4,132.8L489.5,129.3L490.6,125.7L491.7,122.1L492.8,118.5L493.9,115.0L495.0,111.5L496.1,108.2L497.2,104.9L498.4,101.8L499.5,98.8L500.6,95.9L501.7,93.1L502.8,90.5L503.9,88.0L505.0,85.6L506.1,83.4L507.2,81.3L508.3,79.4L509.4,77.6L510.5,75.9L511.6,74.3L512.7,72.9L513.8,71.6L514.9,70.4L516.0,69.3L517.1,68.4L518.2,67.5L519.3,66.8L520.4,66.2L521.5,65.6L522.6,65.2L523.7,64.8L524.8,64.6L525.9,64.4L527.1,64.3L528.2,64.3L529.3,64.4L530.4,64.5L531.5,64.7L532.6,65.0L533.7,65.3L534.8,65.7L535.9,66.2L537.0,66.7L538.1,67.3L539.2,67.9L540.3,68.6L541.4,69.4L542.5,70.1L543.6,70.9L544.7,71.8L545.8,72.7L546.9,73.6L548.0,74.6L549.1,75.6L550.2,76.6L551.3,77.7L552.4,78.8L553.5,79.9L554.6,81.1L555.8,82.2L556.9,83.4L558.0,84.6L559.1,85.9L560.2,87.1L561.3,88.4L562.4,89.7L563.5,91.0L564.6,92.3L565.7,93.6L566.8,94.9L567.9,96.3L569.0,97.7L570.1,99.0L571.2,100.4L572.3,101.8L573.4,103.2L574.5,104.6L575.6,106.0L576.7,107.4L577.8,108.8L578.9,110.3L580.0,111.7L581.1,113.1L582.2,114.5L583.3,116.0L584.5,117.4L585.6,118.8L586.7,120.2L587.8,121.7L588.9,123.1L590.0,124.5L591.1,125.9L592.2,127.4L593.3,128.8L594.4,130.2L595.5,131.6L596.6,133.0L597.7,134.4L598.8,135.8L599.9,137.2L601.0,138.6L602.1,140.0L603.2,141.4L604.3,142.7L605.4,144.1L606.5,145.5L607.6,146.8L608.7,148.2L609.8,149.5" fill="none" stroke="#00BF7D" stroke-width="1.7" stroke-linejoin="miter" stroke-miterlimit="6"/>
<path d="M80.0,303.8L81.1,303.3L82.2,302.2L83.3,300.5L84.4,298.2L85.5,295.6L86.6,292.6L87.7,289.3L88.8,285.9L89.9,282.3L91.0,278.6L92.1,274.8L93.2,270.9L94.3,267.1L95.5,263.2L96.6,259.4L97.7,255.6L98.8,251.9L99.9,248.2L101.0,244.6L102.1,241.1L103.2,237.6L104.3,234.3L105.4,231.0L106.5,227.8L107.6,224.8L108.7,221.8L109.8,218.9L110.9,216.2L112.0,213.5L113.1,210.9L114.2,208.5L115.3,206.1L116.4,203.8L117.5,201.6L118.6,199.5L119.7,197.5L120.8,195.6L121.9,193.8L123.0,192.1L124.2,190.4L125.3,188.8L126.4,187.3L127.5,185.9L128.6,184.6L129.7,183.3L130.8,182.1L131.9,181.0L133.0,179.9L134.1,179.0L135.2,178.0L136.3,177.2L137.4,176.4L138.5,175.6L139.6,174.9L140.7,174.3L141.8,173.7L142.9,173.2L144.0,172.7L145.1,172.3L146.2,171.9L147.3,171.5L148.4,171.2L149.5,171.0L150.6,170.8L151.7,170.6L152.9,170.5L154.0,170.4L155.1,170.3L156.2,170.3L157.3,170.3L158.4,170.3L159.5,170.4L160.6,170.5L161.7,170.7L162.8,170.8L163.9,171.0L165.0,171.2L166.1,171.5L167.2,171.7L168.3,172.0L169.4,172.3L170.5,172.6L171.6,173.0L172.7,173.4L173.8,173.7L174.9,174.2L176.0,174.6L177.1,175.0L178.2,175.5L179.3,176.0L180.4,176.5L181.6,177.0L182.7,177.5L183.8,178.0L184.9,178.6L186.0,179.1L187.1,179.7L188.2,180.3L189.3,180.8L190.4,181.4L191.5,182.1L192.6,182.7L193.7,183.3L194.8,183.9L195.9,184.6L197.0,185.2L198.1,185.9L199.2,186.5L200.3,187.2L201.4,187.9L202.5,188.6L203.6,189.3L204.7,189.9L205.8,190.6L206.9,191.3L208.0,192.0L209.1,192.7L210.3,193.4L211.4,194.2L212.5,194.9L213.6,195.2L214.7,194.8L215.8,193.7L216.9,192.2L218.0,190.3L219.1,188.0L220.2,185.5L221.3,182.8L222.4,179.9L223.5,176.9L224.6,173.8L225.7,170.7L226.8,167.6L227.9,164.5L229.0,161.3L230.1,158.3L231.2,155.3L232.3,152.3L233.4,149.4L234.5,146.6L235.6,143.9L236.7,141.2L237.8,138.7L239.0,136.2L240.1,133.9L241.2,131.6L242.3,129.4L243.4,127.4L244.5,125.4L245.6,123.5L246.7,121.8L247.8,120.1L248.9,118.5L250.0,117.0L251.1,115.6L252.2,114.3L253.3,113.0L254.4,111.9L255.5,110.8L256.6,109.9L257.7,108.9L258.8,108.1L259.9,107.4L261.0,106.7L262.1,106.1L263.2,105.5L264.3,105.0L265.4,104.6L266.5,104.3L267.7,104.0L268.8,103.7L269.9,103.6L271.0,103.4L272.1,103.4L273.2,103.4L274.3,103.4L275.4,103.5L276.5,103.6L277.6,103.8L278.7,104.0L279.8,104.2L280.9,104.5L282.0,104.9L283.1,105.2L284.2,105.6L285.3,106.1L286.4,106.5L287.5,107.1L288.6,107.6L289.7,108.2L290.8,108.8L291.9,109.4L293.0,110.0L294.1,110.7L295.2,111.4L296.4,112.1L297.5,112.9L298.6,113.6L299.7,114.4L300.8,115.2L301.9,116.0L303.0,116.9L304.1,117.7L305.2,118.6L306.3,119.5L307.4,120.4L308.5,121.3L309.6,122.3L310.7,123.2L311.8,124.2L312.9,125.1L314.0,126.1L315.1,127.1L316.2,128.1L317.3,129.1L318.4,130.1L319.5,131.1L320.6,132.2L321.7,133.2L322.8,134.2L323.9,135.3L325.1,136.3L326.2,137.4L327.3,138.5L328.4,139.5L329.5,140.6L330.6,141.7L331.7,142.8L332.8,143.8L333.9,144.9L335.0,146.0L336.1,147.1L337.2,148.2L338.3,149.3L339.4,150.3L340.5,151.4L341.6,152.5L342.7,153.6L343.8,154.7L344.9,155.8L346.0,156.5L347.1,156.4L348.2,155.7L349.3,154.6L350.4,153.0L351.5,151.1L352.6,148.9L353.8,146.6L354.9,144.0L356.0,141.4L357.1,138.6L358.2,135.9L359.3,133.1L360.4,130.3L361.5,127.5L362.6,124.7L363.7,122.0L364.8,119.4L365.9,116.8L367.0,114.3L368.1,111.9L369.2,109.6L370.3,107.3L371.4,105.2L372.5,103.1L373.6,101.2L374.7,99.3L375.8,97.5L376.9,95.8L378.0,94.3L379.1,92.8L380.2,91.4L381.3,90.0L382.5,88.8L383.6,87.7L384.7,86.6L385.8,85.7L386.9,84.8L388.0,84.0L389.1,83.3L390.2,82.6L391.3,82.1L392.4,81.5L393.5,81.1L394.6,80.8L395.7,80.5L396.8,80.2L397.9,80.0L399.0,79.9L400.1,79.9L401.2,79.9L402.3,79.9L403.4,80.0L404.5,80.2L405.6,80.4L406.7,80.7L407.8,81.0L408.9,81.3L410.0,81.7L411.2,82.1L412.3,82.6L413.4,83.1L414.5,83.6L415.6,84.2L416.7,84.8L417.8,85.5L418.9,86.1L420.0,86.8L421.1,87.6L422.2,88.3L423.3,89.1L424.4,89.9L425.5,90.8L426.6,91.7L427.7,92.5L428.8,93.4L429.9,94.4L431.0,95.3L432.1,96.3L433.2,97.3L434.3,98.3L435.4,99.3L436.5,100.3L437.6,101.4L438.7,102.4L439.8,103.5L441.0,104.6L442.1,105.7L443.2,106.8L444.3,107.9L445.4,109.0L446.5,110.2L447.6,111.3L448.7,112.5L449.8,113.6L450.9,114.8L452.0,116.0L453.1,117.1L454.2,118.3L455.3,119.5L456.4,120.7L457.5,121.9L458.6,123.1L459.7,124.3L460.8,125.5L461.9,126.7L463.0,127.9L464.1,129.1L465.2,130.4L466.3,131.6L467.4,132.8L468.5,134.0L469.7,135.2L470.8,136.4L471.9,137.6L473.0,138.9L474.1,140.1L475.2,141.3L476.3,142.5L477.4,143.7L478.5,144.5L479.6,144.6L480.7,144.0L481.8,143.0L482.9,141.5L484.0,139.7L485.1,137.7L486.2,135.4L487.3,133.0L488.4,130.4L489.5,127.8L490.6,125.1L491.7,122.4L492.8,119.8L493.9,117.1L495.0,114.4L496.1,111.8L497.2,109.3L498.4,106.8L499.5,104.4L500.6,102.1L501.7,99.9L502.8,97.7L503.9,95.7L505.0,93.7L506.1,91.8L507.2,90.0L508.3,88.4L509.4,86.8L510.5,85.3L511.6,83.9L512.7,82.6L513.8,81.3L514.9,80.2L516.0,79.2L517.1,78.2L518.2,77.3L519.3,76.5L520.4,75.8L521.5,75.2L522.6,74.6L523.7,74.1L524.8,73.7L525.9,73.3L527.1,73.0L528.2,72.8L529.3,72.6L530.4,72.5L531.5,72.5L532.6,72.5L533.7,72.6L534.8,72.7L535.9,72.9L537.0,73.1L538.1,73.4L539.2,73.7L540.3,74.1L541.4,74.5L542.5,75.0L543.6,75.5L544.7,76.0L545.8,76.6L546.9,77.2L548.0,77.8L549.1,78.5L550.2,79.2L551.3,79.9L552.4,80.7L553.5,81.5L554.6,82.3L555.8,83.2L556.9,84.0L558.0,84.9L559.1,85.9L560.2,86.8L561.3,87.8L562.4,88.8L563.5,89.8L564.6,90.8L565.7,91.8L566.8,92.9L567.9,93.9L569.0,95.0L570.1,96.1L571.2,97.2L572.3,98.4L573.4,99.5L574.5,100.6L575.6,101.8L576.7,103.0L577.8,104.1L578.9,105.3L580.0,106.5L581.1,107.7L582.2,108.9L583.3,110.1L584.5,111.4L585.6,112.6L586.7,113.8L587.8,115.0L588.9,116.3L590.0,117.5L591.1,118.8L592.2,120.0L593.3,121.3L594.4,122.5L595.5,123.8L596.6,125.0L597.7,126.3L598.8,127.5L599.9,128.8L601.0,130.0L602.1,131.3L603.2,132.5L604.3,133.8L605.4,135.0L606.5,136.3L607.6,137.5L608.7,138.8L609.8,140.0" fill="none" stroke="#00BFC4" stroke-width="1.7" stroke-linejoin="miter" stroke-miterlimit="6"/>
<path d="M80.0,303.8L81.1,303.4L82.2,302.5L83.3,301.1L84.4,299.3L85.5,297.2L86.6,294.7L87.7,292.1L88.8,289.3L89.9,286.3L91.0,283.2L92.1,280.1L93.2,276.9L94.3,273.7L95.5,270.5L96.6,267.3L97.7,264.1L98.8,260.9L99.9,257.8L101.0,254.7L102.1,251.7L103.2,248.7L104.3,245.8L105.4,242.9L106.5,240.2L107.6,237.5L108.7,234.8L109.8,232.3L110.9,229.8L112.0,227.4L113.1,225.0L114.2,222.8L115.3,220.6L116.4,218.5L117.5,216.4L118.6,214.5L119.7,212.6L120.8,210.7L121.9,209.0L123.0,207.3L124.2,205.7L125.3,204.1L126.4,202.6L127.5,201.2L128.6,199.8L129.7,198.5L130.8,197.2L131.9,196.0L133.0,194.9L134.1,193.8L135.2,192.7L136.3,191.8L137.4,190.8L138.5,189.9L139.6,189.1L140.7,188.3L141.8,187.6L142.9,186.9L144.0,186.2L145.1,185.6L146.2,185.0L147.3,184.5L148.4,184.0L149.5,183.5L150.6,183.1L151.7,182.7L152.9,182.4L154.0,182.1L155.1,181.8L156.2,181.6L157.3,181.3L158.4,181.2L159.5,181.0L160.6,180.9L161.7,180.8L162.8,180.7L163.9,180.7L165.0,180.6L166.1,180.6L167.2,180.7L168.3,180.7L169.4,180.8L170.5,180.9L171.6,181.0L172.7,181.1L173.8,181.3L174.9,181.5L176.0,181.7L177.1,181.9L178.2,182.1L179.3,182.4L180.4,182.6L181.6,182.9L182.7,183.2L183.8,183.5L184.9,183.9L186.0,184.2L187.1,184.6L188.2,184.9L189.3,185.3L190.4,185.7L191.5,186.1L192.6,186.5L193.7,186.9L194.8,187.4L195.9,187.8L197.0,188.3L198.1,188.8L199.2,189.2L200.3,189.7L201.4,190.2L202.5,190.7L203.6,191.2L204.7,191.7L205.8,192.2L206.9,192.8L208.0,193.3L209.1,193.8L210.3,194.4L211.4,194.9L212.5,195.5L213.6,195.7L214.7,195.4L215.8,194.5L216.9,193.3L218.0,191.7L219.1,189.9L220.2,187.8L221.3,185.6L222.4,183.2L223.5,180.8L224.6,178.2L225.7,175.7L226.8,173.0L227.9,170.4L229.0,167.8L230.1,165.2L231.2,162.7L232.3,160.1L233.4,157.7L234.5,155.3L235.6,152.9L236.7,150.6L237.8,148.4L239.0,146.2L240.1,144.1L241.2,142.1L242.3,140.2L243.4,138.3L244.5,136.5L245.6,134.8L246.7,133.1L247.8,131.6L248.9,130.1L250.0,128.6L251.1,127.3L252.2,126.0L253.3,124.8L254.4,123.6L255.5,122.5L256.6,121.5L257.7,120.6L258.8,119.7L259.9,118.8L261.0,118.0L262.1,117.3L263.2,116.7L264.3,116.1L265.4,115.5L266.5,115.0L267.7,114.6L268.8,114.2L269.9,113.8L271.0,113.5L272.1,113.3L273.2,113.1L274.3,112.9L275.4,112.8L276.5,112.7L277.6,112.6L278.7,112.6L279.8,112.7L280.9,112.7L282.0,112.8L283.1,113.0L284.2,113.1L285.3,113.4L286.4,113.6L287.5,113.9L288.6,114.1L289.7,114.5L290.8,114.8L291.9,115.2L293.0,115.6L294.1,116.0L295.2,116.5L296.4,117.0L297.5,117.5L298.6,118.0L299.7,118.5L300.8,119.1L301.9,119.7L303.0,120.3L304.1,120.9L305.2,121.5L306.3,122.2L307.4,122.9L308.5,123.6L309.6,124.3L310.7,125.0L311.8,125.7L312.9,126.5L314.0,127.2L315.1,128.0L316.2,128.8L317.3,129.6L318.4,130.4L319.5,131.2L320.6,132.0L321.7,132.8L322.8,133.7L323.9,134.5L325.1,135.4L326.2,136.3L327.3,137.1L328.4,138.0L329.5,138.9L330.6,139.8L331.7,140.7L332.8,141.6L333.9,142.5L335.0,143.4L336.1,144.4L337.2,145.3L338.3,146.2L339.4,147.1L340.5,148.1L341.6,149.0L342.7,150.0L343.8,150.9L344.9,151.9L346.0,152.5L347.1,152.5L348.2,152.1L349.3,151.2L350.4,150.0L351.5,148.5L352.6,146.9L353.8,145.0L354.9,143.0L356.0,140.9L357.1,138.7L358.2,136.5L359.3,134.2L360.4,131.9L361.5,129.7L362.6,127.4L363.7,125.2L364.8,123.0L365.9,120.9L367.0,118.8L368.1,116.8L369.2,114.8L370.3,112.9L371.4,111.1L372.5,109.3L373.6,107.6L374.7,106.0L375.8,104.4L376.9,102.9L378.0,101.5L379.1,100.2L380.2,98.9L381.3,97.7L382.5,96.6L383.6,95.5L384.7,94.5L385.8,93.6L386.9,92.7L388.0,91.9L389.1,91.2L390.2,90.5L391.3,89.9L392.4,89.4L393.5,88.8L394.6,88.4L395.7,88.0L396.8,87.7L397.9,87.4L399.0,87.2L400.1,87.0L401.2,86.8L402.3,86.7L403.4,86.7L404.5,86.7L405.6,86.7L406.7,86.8L407.8,86.9L408.9,87.1L410.0,87.3L411.2,87.5L412.3,87.8L413.4,88.1L414.5,88.4L415.6,88.8L416.7,89.2L417.8,89.6L418.9,90.1L420.0,90.6L421.1,91.1L422.2,91.6L423.3,92.2L424.4,92.8L425.5,93.4L426.6,94.0L427.7,94.7L428.8,95.4L429.9,96.1L431.0,96.8L432.1,97.6L433.2,98.3L434.3,99.1L435.4,99.9L436.5,100.7L437.6,101.5L438.7,102.4L439.8,103.2L441.0,104.1L442.1,105.0L443.2,105.9L444.3,106.8L445.4,107.7L446.5,108.7L447.6,109.6L448.7,110.6L449.8,111.6L450.9,112.5L452.0,113.5L453.1,114.5L454.2,115.5L455.3,116.5L456.4,117.5L457.5,118.6L458.6,119.6L459.7,120.6L460.8,121.7L461.9,122.7L463.0,123.8L464.1,124.8L465.2,125.9L466.3,126.9L467.4,128.0L468.5,129.1L469.7,130.1L470.8,131.2L471.9,132.3L473.0,133.4L474.1,134.5L475.2,135.5L476.3,136.6L477.4,137.7L478.5,138.5L479.6,138.6L480.7,138.3L481.8,137.6L482.9,136.5L484.0,135.2L485.1,133.6L486.2,131.9L487.3,130.0L488.4,128.0L489.5,126.0L490.6,123.9L491.7,121.7L492.8,119.6L493.9,117.5L495.0,115.3L496.1,113.2L497.2,111.2L498.4,109.1L499.5,107.2L500.6,105.3L501.7,103.4L502.8,101.6L503.9,99.9L505.0,98.2L506.1,96.6L507.2,95.1L508.3,93.7L509.4,92.3L510.5,91.0L511.6,89.7L512.7,88.6L513.8,87.5L514.9,86.4L516.0,85.5L517.1,84.6L518.2,83.7L519.3,83.0L520.4,82.3L521.5,81.6L522.6,81.0L523.7,80.5L524.8,80.1L525.9,79.6L527.1,79.3L528.2,79.0L529.3,78.7L530.4,78.5L531.5,78.4L532.6,78.3L533.7,78.2L534.8,78.2L535.9,78.3L537.0,78.3L538.1,78.4L539.2,78.6L540.3,78.8L541.4,79.0L542.5,79.3L543.6,79.6L544.7,80.0L545.8,80.4L546.9,80.8L548.0,81.2L549.1,81.7L550.2,82.2L551.3,82.7L552.4,83.3L553.5,83.9L554.6,84.5L555.8,85.1L556.9,85.8L558.0,86.5L559.1,87.2L560.2,87.9L561.3,88.7L562.4,89.4L563.5,90.2L564.6,91.0L565.7,91.9L566.8,92.7L567.9,93.6L569.0,94.4L570.1,95.3L571.2,96.2L572.3,97.2L573.4,98.1L574.5,99.0L575.6,100.0L576.7,101.0L577.8,102.0L578.9,102.9L580.0,103.9L581.1,105.0L582.2,106.0L583.3,107.0L584.5,108.1L585.6,109.1L586.7,110.2L587.8,111.2L588.9,112.3L590.0,113.4L591.1,114.4L592.2,115.5L593.3,116.6L594.4,117.7L595.5,118.8L596.6,119.9L597.7,121.0L598.8,122.1L599.9,123.2L601.0,124.4L602.1,125.5L603.2,126.6L604.3,127.7L605.4,128.8L606.5,130.0L607.6,131.1L608.7,132.2L609.8,133.4" fill="none" stroke="#00B0F6" stroke-width="1.7" stroke-linejoin="miter" stroke-miterlimit="6"/>
<path d="M80.0,303.8L81.1,303.5L82.2,302.9L83.3,302.0L84.4,300.8L85.5,299.3L86.6,297.7L87.7,295.8L88.8,293.9L89.9,291.9L91.0,289.7L92.1,287.6L93.2,285.3L94.3,283.1L95.5,280.8L96.6,278.5L97.7,276.2L98.8,273.9L99.9,271.7L101.0,269.4L102.1,267.2L103.2,265.0L104.3,262.9L105.4,260.7L106.5,258.6L107.6,256.6L108.7,254.6L109.8,252.6L110.9,250.7L112.0,248.8L113.1,246.9L114.2,245.1L115.3,243.4L116.4,241.7L117.5,240.0L118.6,238.4L119.7,236.8L120.8,235.2L121.9,233.7L123.0,232.3L124.2,230.8L125.3,229.5L126.4,228.1L127.5,226.8L128.6,225.6L129.7,224.3L130.8,223.2L131.9,222.0L133.0,220.9L134.1,219.8L135.2,218.8L136.3,217.8L137.4,216.8L138.5,215.9L139.6,215.0L140.7,214.1L141.8,213.3L142.9,212.5L144.0,211.7L145.1,210.9L146.2,210.2L147.3,209.5L148.4,208.9L149.5,208.2L150.6,207.6L151.7,207.0L152.9,206.5L154.0,206.0L155.1,205.5L156.2,205.0L157.3,204.5L158.4,204.1L159.5,203.7L160.6,203.3L161.7,202.9L162.8,202.6L163.9,202.3L165.0,202.0L166.1,201.7L167.2,201.4L168.3,201.2L169.4,201.0L170.5,200.8L171.6,200.6L172.7,200.4L173.8,200.3L174.9,200.1L176.0,200.0L177.1,199.9L178.2,199.8L179.3,199.8L180.4,199.7L181.6,199.7L182.7,199.7L183.8,199.6L184.9,199.7L186.0,199.7L187.1,199.7L188.2,199.8L189.3,199.8L190.4,199.9L191.5,200.0L192.6,200.1L193.7,200.2L194.8,200.3L195.9,200.4L197.0,200.5L198.1,200.7L199.2,200.9L200.3,201.0L201.4,201.2L202.5,201.4L203.6,201.6L204.7,201.8L205.8,202.0L206.9,202.2L208.0,202.5L209.1,202.7L210.3,202.9L211.4,203.2L212.5,203.5L213.6,203.5L214.7,203.2L215.8,202.5L216.9,201.6L218.0,200.4L219.1,199.1L220.2,197.6L221.3,196.0L222.4,194.2L223.5,192.4L224.6,190.6L225.7,188.7L226.8,186.8L227.9,184.9L229.0,182.9L230.1,181.0L231.2,179.1L232.3,177.2L233.4,175.3L234.5,173.4L235.6,171.6L236.7,169.8L237.8,168.1L239.0,166.4L240.1,164.7L241.2,163.1L242.3,161.5L243.4,160.0L244.5,158.5L245.6,157.1L246.7,155.7L247.8,154.3L248.9,153.0L250.0,151.7L251.1,150.5L252.2,149.4L253.3,148.2L254.4,147.1L255.5,146.1L256.6,145.1L257.7,144.2L258.8,143.3L259.9,142.4L261.0,141.6L262.1,140.8L263.2,140.0L264.3,139.3L265.4,138.6L266.5,138.0L267.7,137.4L268.8,136.8L269.9,136.3L271.0,135.8L272.1,135.3L273.2,134.9L274.3,134.5L275.4,134.1L276.5,133.8L277.6,133.5L278.7,133.2L279.8,132.9L280.9,132.7L282.0,132.5L283.1,132.3L284.2,132.2L285.3,132.1L286.4,132.0L287.5,131.9L288.6,131.9L289.7,131.9L290.8,131.9L291.9,131.9L293.0,132.0L294.1,132.0L295.2,132.1L296.4,132.2L297.5,132.4L298.6,132.5L299.7,132.7L300.8,132.9L301.9,133.1L303.0,133.3L304.1,133.6L305.2,133.8L306.3,134.1L307.4,134.4L308.5,134.7L309.6,135.0L310.7,135.3L311.8,135.7L312.9,136.1L314.0,136.4L315.1,136.8L316.2,137.2L317.3,137.7L318.4,138.1L319.5,138.5L320.6,139.0L321.7,139.5L322.8,139.9L323.9,140.4L325.1,140.9L326.2,141.4L327.3,141.9L328.4,142.5L329.5,143.0L330.6,143.5L331.7,144.1L332.8,144.7L333.9,145.2L335.0,145.8L336.1,146.4L337.2,147.0L338.3,147.6L339.4,148.2L340.5,148.8L341.6,149.4L342.7,150.0L343.8,150.7L344.9,151.3L346.0,151.7L347.1,151.8L348.2,151.5L349.3,150.9L350.4,150.1L351.5,149.1L352.6,148.0L353.8,146.7L354.9,145.4L356.0,143.9L357.1,142.4L358.2,140.9L359.3,139.3L360.4,137.7L361.5,136.1L362.6,134.6L363.7,133.0L364.8,131.4L365.9,129.9L367.0,128.4L368.1,126.9L369.2,125.4L370.3,124.0L371.4,122.6L372.5,121.3L373.6,120.0L374.7,118.8L375.8,117.6L376.9,116.4L378.0,115.3L379.1,114.2L380.2,113.1L381.3,112.2L382.5,111.2L383.6,110.3L384.7,109.4L385.8,108.6L386.9,107.8L388.0,107.1L389.1,106.4L390.2,105.8L391.3,105.1L392.4,104.6L393.5,104.0L394.6,103.5L395.7,103.1L396.8,102.6L397.9,102.3L399.0,101.9L400.1,101.6L401.2,101.3L402.3,101.0L403.4,100.8L404.5,100.6L405.6,100.5L406.7,100.3L407.8,100.2L408.9,100.2L410.0,100.1L411.2,100.1L412.3,100.1L413.4,100.2L414.5,100.2L415.6,100.3L416.7,100.4L417.8,100.6L418.9,100.7L420.0,100.9L421.1,101.1L422.2,101.4L423.3,101.6L424.4,101.9L425.5,102.2L426.6,102.5L427.7,102.8L428.8,103.2L429.9,103.5L431.0,103.9L432.1,104.3L433.2,104.7L434.3,105.2L435.4,105.6L436.5,106.1L437.6,106.6L438.7,107.1L439.8,107.6L441.0,108.1L442.1,108.7L443.2,109.2L444.3,109.8L445.4,110.4L446.5,111.0L447.6,111.6L448.7,112.2L449.8,112.8L450.9,113.4L452.0,114.1L453.1,114.7L454.2,115.4L455.3,116.1L456.4,116.8L457.5,117.5L458.6,118.2L459.7,118.9L460.8,119.6L461.9,120.3L463.0,121.1L464.1,121.8L465.2,122.6L466.3,123.3L467.4,124.1L468.5,124.8L469.7,125.6L470.8,126.4L471.9,127.2L473.0,128.0L474.1,128.8L475.2,129.6L476.3,130.4L477.4,131.2L478.5,131.8L479.6,132.0L480.7,131.8L481.8,131.4L482.9,130.8L484.0,130.0L485.1,129.0L486.2,127.9L487.3,126.7L488.4,125.4L489.5,124.1L490.6,122.7L491.7,121.3L492.8,119.9L493.9,118.4L495.0,117.0L496.1,115.6L497.2,114.2L498.4,112.8L499.5,111.4L500.6,110.1L501.7,108.8L502.8,107.5L503.9,106.3L505.0,105.1L506.1,103.9L507.2,102.8L508.3,101.7L509.4,100.7L510.5,99.7L511.6,98.8L512.7,97.9L513.8,97.0L514.9,96.2L516.0,95.4L517.1,94.7L518.2,94.0L519.3,93.3L520.4,92.7L521.5,92.2L522.6,91.6L523.7,91.1L524.8,90.7L525.9,90.3L527.1,89.9L528.2,89.6L529.3,89.2L530.4,89.0L531.5,88.7L532.6,88.5L533.7,88.4L534.8,88.2L535.9,88.1L537.0,88.0L538.1,88.0L539.2,88.0L540.3,88.0L541.4,88.0L542.5,88.1L543.6,88.2L544.7,88.3L545.8,88.4L546.9,88.6L548.0,88.8L549.1,89.0L550.2,89.2L551.3,89.5L552.4,89.8L553.5,90.1L554.6,90.4L555.8,90.8L556.9,91.1L558.0,91.5L559.1,91.9L560.2,92.4L561.3,92.8L562.4,93.3L563.5,93.7L564.6,94.2L565.7,94.7L566.8,95.3L567.9,95.8L569.0,96.4L570.1,96.9L571.2,97.5L572.3,98.1L573.4,98.7L574.5,99.4L575.6,100.0L576.7,100.7L577.8,101.3L578.9,102.0L580.0,102.7L581.1,103.4L582.2,104.1L583.3,104.8L584.5,105.5L585.6,106.2L586.7,107.0L587.8,107.7L588.9,108.5L590.0,109.3L591.1,110.0L592.2,110.8L593.3,111.6L594.4,112.4L595.5,113.2L596.6,114.0L597.7,114.9L598.8,115.7L599.9,116.5L601.0,117.3L602.1,118.2L603.2,119.0L604.3,119.9L605.4,120.7L606.5,121.6L607.6,122.5L608.7,123.3L609.8,124.2" fill="none" stroke="#9590FF" stroke-width="1.7" stroke-linejoin="miter" stroke-miterlimit="6"/>
<path d="M80.0,303.8L81.1,303.6L82.2,303.1L83.3,302.4L84.4,301.5L85.5,300.4L86.6,299.1L87.7,297.8L88.8,296.3L89.9,294.7L91.0,293.1L92.1,291.4L93.2,289.7L94.3,288.0L95.5,286.2L96.6,284.5L97.7,282.7L98.8,280.9L99.9,279.1L101.0,277.4L102.1,275.6L103.2,273.9L104.3,272.2L105.4,270.5L106.5,268.8L107.6,267.2L108.7,265.6L109.8,264.0L110.9,262.4L112.0,260.9L113.1,259.4L114.2,257.9L115.3,256.4L116.4,255.0L117.5,253.6L118.6,252.3L119.7,250.9L120.8,249.6L121.9,248.4L123.0,247.1L124.2,245.9L125.3,244.7L126.4,243.6L127.5,242.4L128.6,241.3L129.7,240.3L130.8,239.2L131.9,238.2L133.0,237.2L134.1,236.2L135.2,235.3L136.3,234.4L137.4,233.5L138.5,232.6L139.6,231.8L140.7,230.9L141.8,230.1L142.9,229.4L144.0,228.6L145.1,227.9L146.2,227.2L147.3,226.5L148.4,225.8L149.5,225.2L150.6,224.5L151.7,223.9L152.9,223.4L154.0,222.8L155.1,222.2L156.2,221.7L157.3,221.2L158.4,220.7L159.5,220.3L160.6,219.8L161.7,219.4L162.8,218.9L163.9,218.5L165.0,218.1L166.1,217.8L167.2,217.4L168.3,217.1L169.4,216.8L170.5,216.4L171.6,216.2L172.7,215.9L173.8,215.6L174.9,215.4L176.0,215.1L177.1,214.9L178.2,214.7L179.3,214.5L180.4,214.3L181.6,214.1L182.7,214.0L183.8,213.8L184.9,213.7L186.0,213.6L187.1,213.4L188.2,213.3L189.3,213.2L190.4,213.2L191.5,213.1L192.6,213.0L193.7,213.0L194.8,212.9L195.9,212.9L197.0,212.9L198.1,212.9L199.2,212.9L200.3,212.9L201.4,212.9L202.5,212.9L203.6,213.0L204.7,213.0L205.8,213.1L206.9,213.1L208.0,213.2L209.1,213.3L210.3,213.3L211.4,213.4L212.5,213.5L213.6,213.5L214.7,213.1L215.8,212.5L216.9,211.7L218.0,210.7L219.1,209.6L220.2,208.4L221.3,207.1L222.4,205.7L223.5,204.2L224.6,202.7L225.7,201.2L226.8,199.6L227.9,198.0L229.0,196.4L230.1,194.8L231.2,193.3L232.3,191.7L233.4,190.1L234.5,188.6L235.6,187.1L236.7,185.6L237.8,184.1L239.0,182.7L240.1,181.3L241.2,179.9L242.3,178.5L243.4,177.2L244.5,175.9L245.6,174.7L246.7,173.4L247.8,172.2L248.9,171.1L250.0,170.0L251.1,168.9L252.2,167.8L253.3,166.8L254.4,165.8L255.5,164.8L256.6,163.9L257.7,163.0L258.8,162.1L259.9,161.3L261.0,160.4L262.1,159.7L263.2,158.9L264.3,158.2L265.4,157.5L266.5,156.8L267.7,156.2L268.8,155.6L269.9,155.0L271.0,154.4L272.1,153.9L273.2,153.4L274.3,152.9L275.4,152.4L276.5,152.0L277.6,151.6L278.7,151.2L279.8,150.8L280.9,150.5L282.0,150.2L283.1,149.9L284.2,149.6L285.3,149.3L286.4,149.1L287.5,148.9L288.6,148.7L289.7,148.5L290.8,148.3L291.9,148.2L293.0,148.0L294.1,147.9L295.2,147.9L296.4,147.8L297.5,147.7L298.6,147.7L299.7,147.7L300.8,147.7L301.9,147.7L303.0,147.7L304.1,147.7L305.2,147.8L306.3,147.9L307.4,147.9L308.5,148.0L309.6,148.1L310.7,148.3L311.8,148.4L312.9,148.5L314.0,148.7L315.1,148.9L316.2,149.1L317.3,149.3L318.4,149.5L319.5,149.7L320.6,149.9L321.7,150.2L322.8,150.4L323.9,150.7L325.1,150.9L326.2,151.2L327.3,151.5L328.4,151.8L329.5,152.1L330.6,152.4L331.7,152.8L332.8,153.1L333.9,153.5L335.0,153.8L336.1,154.2L337.2,154.5L338.3,154.9L339.4,155.3L340.5,155.7L341.6,156.1L342.7,156.5L343.8,156.9L344.9,157.3L346.0,157.6L347.1,157.5L348.2,157.2L349.3,156.8L350.4,156.1L351.5,155.3L352.6,154.4L353.8,153.4L354.9,152.3L356.0,151.1L357.1,149.9L358.2,148.7L359.3,147.5L360.4,146.2L361.5,144.9L362.6,143.6L363.7,142.4L364.8,141.1L365.9,139.8L367.0,138.6L368.1,137.4L369.2,136.2L370.3,135.0L371.4,133.9L372.5,132.8L373.6,131.7L374.7,130.6L375.8,129.6L376.9,128.6L378.0,127.6L379.1,126.7L380.2,125.8L381.3,124.9L382.5,124.1L383.6,123.3L384.7,122.5L385.8,121.8L386.9,121.0L388.0,120.4L389.1,119.7L390.2,119.1L391.3,118.5L392.4,117.9L393.5,117.4L394.6,116.9L395.7,116.4L396.8,115.9L397.9,115.5L399.0,115.1L400.1,114.7L401.2,114.4L402.3,114.1L403.4,113.8L404.5,113.5L405.6,113.3L406.7,113.0L407.8,112.8L408.9,112.7L410.0,112.5L411.2,112.4L412.3,112.3L413.4,112.2L414.5,112.1L415.6,112.0L416.7,112.0L417.8,112.0L418.9,112.0L420.0,112.0L421.1,112.1L422.2,112.1L423.3,112.2L424.4,112.3L425.5,112.4L426.6,112.6L427.7,112.7L428.8,112.9L429.9,113.1L431.0,113.3L432.1,113.5L433.2,113.7L434.3,113.9L435.4,114.2L436.5,114.5L437.6,114.7L438.7,115.0L439.8,115.3L441.0,115.7L442.1,116.0L443.2,116.3L444.3,116.7L445.4,117.1L446.5,117.4L447.6,117.8L448.7,118.2L449.8,118.6L450.9,119.1L452.0,119.5L453.1,119.9L454.2,120.4L455.3,120.8L456.4,121.3L457.5,121.8L458.6,122.3L459.7,122.8L460.8,123.3L461.9,123.8L463.0,124.3L464.1,124.8L465.2,125.3L466.3,125.9L467.4,126.4L468.5,127.0L469.7,127.5L470.8,128.1L471.9,128.7L473.0,129.3L474.1,129.8L475.2,130.4L476.3,131.0L477.4,131.6L478.5,132.1L479.6,132.2L480.7,132.1L481.8,131.8L482.9,131.3L484.0,130.7L485.1,130.0L486.2,129.1L487.3,128.2L488.4,127.3L489.5,126.2L490.6,125.2L491.7,124.1L492.8,123.0L493.9,121.9L495.0,120.8L496.1,119.6L497.2,118.5L498.4,117.5L499.5,116.4L500.6,115.3L501.7,114.3L502.8,113.3L503.9,112.3L505.0,111.3L506.1,110.4L507.2,109.5L508.3,108.6L509.4,107.8L510.5,107.0L511.6,106.2L512.7,105.5L513.8,104.7L514.9,104.0L516.0,103.4L517.1,102.8L518.2,102.2L519.3,101.6L520.4,101.0L521.5,100.5L522.6,100.1L523.7,99.6L524.8,99.2L525.9,98.8L527.1,98.4L528.2,98.1L529.3,97.8L530.4,97.5L531.5,97.2L532.6,97.0L533.7,96.8L534.8,96.6L535.9,96.4L537.0,96.3L538.1,96.1L539.2,96.0L540.3,96.0L541.4,95.9L542.5,95.9L543.6,95.9L544.7,95.9L545.8,95.9L546.9,96.0L548.0,96.0L549.1,96.1L550.2,96.2L551.3,96.4L552.4,96.5L553.5,96.7L554.6,96.9L555.8,97.1L556.9,97.3L558.0,97.5L559.1,97.7L560.2,98.0L561.3,98.3L562.4,98.6L563.5,98.9L564.6,99.2L565.7,99.5L566.8,99.9L567.9,100.2L569.0,100.6L570.1,101.0L571.2,101.4L572.3,101.8L573.4,102.2L574.5,102.7L575.6,103.1L576.7,103.6L577.8,104.0L578.9,104.5L580.0,105.0L581.1,105.5L582.2,106.0L583.3,106.5L584.5,107.1L585.6,107.6L586.7,108.1L587.8,108.7L588.9,109.3L590.0,109.8L591.1,110.4L592.2,111.0L593.3,111.6L594.4,112.2L595.5,112.8L596.6,113.4L597.7,114.0L598.8,114.7L599.9,115.3L601.0,115.9L602.1,116.6L603.2,117.2L604.3,117.9L605.4,118.6L606.5,119.2L607.6,119.9L608.7,120.6L609.8,121.3" fill="none" stroke="#E76BF3" stroke-width="1.7" stroke-linejoin="miter" stroke-miterlimit="6"/>
<path d="M80.0,303.8L81.1,303.6L82.2,303.2L83.3,302.7L84.4,301.9L85.5,301.1L86.6,300.0L87.7,298.9L88.8,297.8L89.9,296.5L91.0,295.2L92.1,293.8L93.2,292.4L94.3,291.0L95.5,289.6L96.6,288.1L97.7,286.7L98.8,285.2L99.9,283.8L101.0,282.3L102.1,280.9L103.2,279.5L104.3,278.0L105.4,276.6L106.5,275.3L107.6,273.9L108.7,272.5L109.8,271.2L110.9,269.9L112.0,268.6L113.1,267.3L114.2,266.1L115.3,264.9L116.4,263.7L117.5,262.5L118.6,261.3L119.7,260.2L120.8,259.1L121.9,258.0L123.0,256.9L124.2,255.9L125.3,254.8L126.4,253.8L127.5,252.8L128.6,251.9L129.7,250.9L130.8,250.0L131.9,249.1L133.0,248.2L134.1,247.4L135.2,246.5L136.3,245.7L137.4,244.9L138.5,244.1L139.6,243.3L140.7,242.6L141.8,241.8L142.9,241.1L144.0,240.4L145.1,239.8L146.2,239.1L147.3,238.4L148.4,237.8L149.5,237.2L150.6,236.6L151.7,236.0L152.9,235.5L154.0,234.9L155.1,234.4L156.2,233.9L157.3,233.4L158.4,232.9L159.5,232.4L160.6,231.9L161.7,231.5L162.8,231.1L163.9,230.6L165.0,230.2L166.1,229.8L167.2,229.5L168.3,229.1L169.4,228.7L170.5,228.4L171.6,228.1L172.7,227.7L173.8,227.4L174.9,227.1L176.0,226.9L177.1,226.6L178.2,226.3L179.3,226.1L180.4,225.8L181.6,225.6L182.7,225.4L183.8,225.2L184.9,225.0L186.0,224.8L187.1,224.6L188.2,224.4L189.3,224.3L190.4,224.1L191.5,224.0L192.6,223.8L193.7,223.7L194.8,223.6L195.9,223.5L197.0,223.4L198.1,223.3L199.2,223.2L200.3,223.1L201.4,223.1L202.5,223.0L203.6,222.9L204.7,222.9L205.8,222.9L206.9,222.8L208.0,222.8L209.1,222.8L210.3,222.8L211.4,222.8L212.5,222.8L213.6,222.6L214.7,222.3L215.8,221.7L216.9,221.0L218.0,220.2L219.1,219.2L220.2,218.1L221.3,217.0L222.4,215.8L223.5,214.6L224.6,213.3L225.7,211.9L226.8,210.6L227.9,209.3L229.0,207.9L230.1,206.5L231.2,205.2L232.3,203.8L233.4,202.5L234.5,201.1L235.6,199.8L236.7,198.5L237.8,197.3L239.0,196.0L240.1,194.8L241.2,193.5L242.3,192.3L243.4,191.2L244.5,190.0L245.6,188.9L246.7,187.8L247.8,186.8L248.9,185.7L250.0,184.7L251.1,183.7L252.2,182.7L253.3,181.8L254.4,180.9L255.5,180.0L256.6,179.1L257.7,178.3L258.8,177.4L259.9,176.7L261.0,175.9L262.1,175.1L263.2,174.4L264.3,173.7L265.4,173.0L266.5,172.4L267.7,171.7L268.8,171.1L269.9,170.5L271.0,169.9L272.1,169.4L273.2,168.9L274.3,168.3L275.4,167.9L276.5,167.4L277.6,166.9L278.7,166.5L279.8,166.1L280.9,165.7L282.0,165.3L283.1,164.9L284.2,164.6L285.3,164.3L286.4,164.0L287.5,163.7L288.6,163.4L289.7,163.1L290.8,162.9L291.9,162.6L293.0,162.4L294.1,162.2L295.2,162.0L296.4,161.9L297.5,161.7L298.6,161.6L299.7,161.4L300.8,161.3L301.9,161.2L303.0,161.1L304.1,161.1L305.2,161.0L306.3,160.9L307.4,160.9L308.5,160.9L309.6,160.9L310.7,160.9L311.8,160.9L312.9,160.9L314.0,160.9L315.1,161.0L316.2,161.0L317.3,161.1L318.4,161.2L319.5,161.2L320.6,161.3L321.7,161.4L322.8,161.5L323.9,161.7L325.1,161.8L326.2,161.9L327.3,162.1L328.4,162.2L329.5,162.4L330.6,162.6L331.7,162.8L332.8,162.9L333.9,163.1L335.0,163.3L336.1,163.6L337.2,163.8L338.3,164.0L339.4,164.2L340.5,164.5L341.6,164.7L342.7,165.0L343.8,165.2L344.9,165.5L346.0,165.6L347.1,165.6L348.2,165.3L349.3,164.8L350.4,164.2L351.5,163.5L352.6,162.7L353.8,161.9L354.9,160.9L356.0,159.9L357.1,158.9L358.2,157.8L359.3,156.8L360.4,155.7L361.5,154.6L362.6,153.5L363.7,152.4L364.8,151.3L365.9,150.2L367.0,149.1L368.1,148.1L369.2,147.0L370.3,146.0L371.4,145.0L372.5,144.0L373.6,143.0L374.7,142.1L375.8,141.2L376.9,140.3L378.0,139.4L379.1,138.6L380.2,137.8L381.3,137.0L382.5,136.2L383.6,135.5L384.7,134.8L385.8,134.1L386.9,133.4L388.0,132.7L389.1,132.1L390.2,131.5L391.3,131.0L392.4,130.4L393.5,129.9L394.6,129.4L395.7,128.9L396.8,128.4L397.9,128.0L399.0,127.6L400.1,127.2L401.2,126.8L402.3,126.4L403.4,126.1L404.5,125.8L405.6,125.5L406.7,125.2L407.8,124.9L408.9,124.7L410.0,124.5L411.2,124.3L412.3,124.1L413.4,123.9L414.5,123.8L415.6,123.6L416.7,123.5L417.8,123.4L418.9,123.3L420.0,123.3L421.1,123.2L422.2,123.2L423.3,123.2L424.4,123.2L425.5,123.2L426.6,123.2L427.7,123.2L428.8,123.3L429.9,123.3L431.0,123.4L432.1,123.5L433.2,123.6L434.3,123.7L435.4,123.8L436.5,124.0L437.6,124.1L438.7,124.3L439.8,124.4L441.0,124.6L442.1,124.8L443.2,125.0L444.3,125.2L445.4,125.5L446.5,125.7L447.6,125.9L448.7,126.2L449.8,126.5L450.9,126.7L452.0,127.0L453.1,127.3L454.2,127.6L455.3,127.9L456.4,128.2L457.5,128.6L458.6,128.9L459.7,129.2L460.8,129.6L461.9,130.0L463.0,130.3L464.1,130.7L465.2,131.1L466.3,131.5L467.4,131.9L468.5,132.3L469.7,132.7L470.8,133.1L471.9,133.5L473.0,133.9L474.1,134.3L475.2,134.8L476.3,135.2L477.4,135.7L478.5,136.0L479.6,136.1L480.7,136.0L481.8,135.7L482.9,135.3L484.0,134.8L485.1,134.1L486.2,133.4L487.3,132.7L488.4,131.8L489.5,131.0L490.6,130.1L491.7,129.2L492.8,128.3L493.9,127.3L495.0,126.4L496.1,125.5L497.2,124.5L498.4,123.6L499.5,122.7L500.6,121.8L501.7,120.9L502.8,120.1L503.9,119.2L505.0,118.4L506.1,117.6L507.2,116.8L508.3,116.1L509.4,115.3L510.5,114.6L511.6,113.9L512.7,113.3L513.8,112.6L514.9,112.0L516.0,111.4L517.1,110.9L518.2,110.3L519.3,109.8L520.4,109.3L521.5,108.8L522.6,108.4L523.7,108.0L524.8,107.5L525.9,107.2L527.1,106.8L528.2,106.5L529.3,106.1L530.4,105.8L531.5,105.6L532.6,105.3L533.7,105.1L534.8,104.8L535.9,104.7L537.0,104.5L538.1,104.3L539.2,104.2L540.3,104.0L541.4,103.9L542.5,103.9L543.6,103.8L544.7,103.7L545.8,103.7L546.9,103.7L548.0,103.7L549.1,103.7L550.2,103.7L551.3,103.8L552.4,103.8L553.5,103.9L554.6,104.0L555.8,104.1L556.9,104.2L558.0,104.3L559.1,104.5L560.2,104.6L561.3,104.8L562.4,105.0L563.5,105.2L564.6,105.4L565.7,105.6L566.8,105.8L567.9,106.1L569.0,106.3L570.1,106.6L571.2,106.8L572.3,107.1L573.4,107.4L574.5,107.7L575.6,108.1L576.7,108.4L577.8,108.7L578.9,109.1L580.0,109.4L581.1,109.8L582.2,110.2L583.3,110.5L584.5,110.9L585.6,111.3L586.7,111.7L587.8,112.1L588.9,112.6L590.0,113.0L591.1,113.4L592.2,113.9L593.3,114.3L594.4,114.8L595.5,115.3L596.6,115.7L597.7,116.2L598.8,116.7L599.9,117.2L601.0,117.7L602.1,118.2L603.2,118.7L604.3,119.2L605.4,119.7L606.5,120.3L607.6,120.8L608.7,121.3L609.8,121.9" fill="none" stroke="#FF62BC" stroke-width="1.7" stroke-linejoin="miter" stroke-miterlimit="6"/>
<path d="M80.0,303.8L80.6,298.1L81.1,292.8L81.7,287.9L82.2,283.4L82.8,279.2L83.3,275.3L83.9,271.7L84.4,268.4L85.0,265.3L85.5,262.5L86.1,259.9L86.6,257.5L87.2,255.3L87.7,253.2L88.3,251.3L88.8,249.6L89.4,248.0L89.9,246.6L90.5,245.2L91.0,244.0L91.6,242.9L92.1,241.9L92.7,241.0L93.2,240.2L93.8,239.4L94.3,238.8L94.9,238.2L95.5,237.7L96.0,237.2L96.6,236.8L97.1,236.4L97.7,236.1L98.2,235.8L98.8,235.6L99.3,235.4L99.9,235.3L100.4,235.1L101.0,235.1L101.5,235.0L102.1,235.0L102.6,235.0L103.2,235.0L103.7,235.0L104.3,235.1L104.8,235.2L105.4,235.3L105.9,235.4L106.5,235.5L107.0,235.7L107.6,235.8L108.1,236.0L108.7,236.2L109.3,236.4L109.8,236.6L110.4,236.8L110.9,237.0L111.5,237.2L112.0,237.4L112.6,237.7L113.1,237.9L113.7,238.1L114.2,238.4L114.8,238.6L115.3,238.9L115.9,239.2L116.4,239.4L117.0,239.7L117.5,239.9L118.1,240.2L118.6,240.5L119.2,240.8L119.7,241.0L120.3,241.3L120.8,241.6L121.4,241.9L121.9,242.1L122.5,242.4L123.0,242.7L123.6,243.0L124.2,243.3L124.7,243.5L125.3,243.8L125.8,244.1L126.4,244.4L126.9,244.7L127.5,244.9L128.0,245.2L128.6,245.5L129.1,245.8L129.7,246.1L130.2,246.3L130.8,246.6L131.3,246.9L131.9,247.2L132.4,247.4L133.0,247.7L133.5,248.0L134.1,248.3L134.6,248.5L135.2,248.8L135.7,249.1L136.3,249.3L136.8,249.6L137.4,249.9L138.0,250.1L138.5,250.4L139.1,250.7L139.6,250.9L140.2,251.2L140.7,251.4L141.3,251.7L141.8,252.0L142.4,252.2L142.9,252.5L143.5,252.7L144.0,253.0L144.6,253.2L145.1,253.5L145.7,253.7L146.2,254.0L146.8,254.2L147.3,254.5L147.9,254.7L148.4,255.0L149.0,255.2L149.5,255.4L150.1,255.7L150.6,255.9L151.2,256.2L151.7,256.4L152.3,256.6L152.9,256.9L153.4,257.1L154.0,257.3L154.5,257.6L155.1,257.8L155.6,258.0L156.2,258.2L156.7,258.5L157.3,258.7L157.8,258.9L158.4,259.1L158.9,259.4L159.5,259.6L160.0,259.8L160.6,260.0L161.1,260.2L161.7,260.5L162.2,260.7L162.8,260.9L163.3,261.1L163.9,261.3L164.4,261.5L165.0,261.7L165.5,262.0L166.1,262.2L166.7,262.4L167.2,262.6L167.8,262.8L168.3,263.0L168.9,263.2L169.4,263.4L170.0,263.6L170.5,263.8L171.1,264.0L171.6,264.2L172.2,264.4L172.7,264.6L173.3,264.8L173.8,265.0L174.4,265.2L174.9,265.4L175.5,265.5L176.0,265.7L176.6,265.9L177.1,266.1L177.7,266.3L178.2,266.5L178.8,266.7L179.3,266.9L179.9,267.0L180.4,267.2L181.0,267.4L181.6,267.6L182.1,267.8L182.7,268.0L183.2,268.1L183.8,268.3L184.3,268.5L184.9,268.7L185.4,268.8L186.0,269.0L186.5,269.2L187.1,269.4L187.6,269.5L188.2,269.7L188.7,269.9L189.3,270.0L189.8,270.2L190.4,270.4L190.9,270.5L191.5,270.7L192.0,270.9L192.6,271.0L193.1,271.2L193.7,271.4L194.2,271.5L194.8,271.7L195.4,271.8L195.9,272.0L196.5,272.2L197.0,272.3L197.6,272.5L198.1,272.6L198.7,272.8L199.2,272.9L199.8,273.1L200.3,273.2L200.9,273.4L201.4,273.5L202.0,273.7L202.5,273.8L203.1,274.0L203.6,274.1L204.2,274.3L204.7,274.4L205.3,274.6L205.8,274.7L206.4,274.9L206.9,275.0L207.5,275.2L208.0,275.3L208.6,275.4L209.1,275.6L209.7,275.7L210.3,275.9L210.8,276.0L211.4,276.1L211.9,276.3L212.5,276.4L213.0,270.9L213.6,265.7L214.1,261.0L214.7,256.6L215.2,252.5L215.8,248.8L216.3,245.3L216.9,242.1L217.4,239.2L218.0,236.5L218.5,234.0L219.1,231.7L219.6,229.6L220.2,227.7L220.7,226.0L221.3,224.4L221.8,222.9L222.4,221.6L222.9,220.4L223.5,219.3L224.1,218.3L224.6,217.4L225.2,216.7L225.7,216.0L226.3,215.3L226.8,214.8L227.4,214.3L227.9,213.9L228.5,213.5L229.0,213.2L229.6,213.0L230.1,212.8L230.7,212.7L231.2,212.5L231.8,212.5L232.3,212.4L232.9,212.4L233.4,212.5L234.0,212.5L234.5,212.6L235.1,212.7L235.6,212.9L236.2,213.0L236.7,213.2L237.3,213.4L237.8,213.6L238.4,213.8L239.0,214.0L239.5,214.3L240.1,214.5L240.6,214.8L241.2,215.1L241.7,215.4L242.3,215.7L242.8,216.0L243.4,216.3L243.9,216.6L244.5,217.0L245.0,217.3L245.6,217.7L246.1,218.0L246.7,218.3L247.2,218.7L247.8,219.1L248.3,219.4L248.9,219.8L249.4,220.1L250.0,220.5L250.5,220.9L251.1,221.2L251.6,221.6L252.2,222.0L252.7,222.3L253.3,222.7L253.9,223.1L254.4,223.5L255.0,223.8L255.5,224.2L256.1,224.6L256.6,224.9L257.2,225.3L257.7,225.7L258.3,226.1L258.8,226.4L259.4,226.8L259.9,227.2L260.5,227.5L261.0,227.9L261.6,228.3L262.1,228.6L262.7,229.0L263.2,229.4L263.8,229.7L264.3,230.1L264.9,230.4L265.4,230.8L266.0,231.2L266.5,231.5L267.1,231.9L267.7,232.2L268.2,232.6L268.8,232.9L269.3,233.3L269.9,233.6L270.4,234.0L271.0,234.3L271.5,234.7L272.1,235.0L272.6,235.3L273.2,235.7L273.7,236.0L274.3,236.3L274.8,236.7L275.4,237.0L275.9,237.3L276.5,237.7L277.0,238.0L277.6,238.3L278.1,238.7L278.7,239.0L279.2,239.3L279.8,239.6L280.3,239.9L280.9,240.3L281.4,240.6L282.0,240.9L282.6,241.2L283.1,241.5L283.7,241.8L284.2,242.1L284.8,242.4L285.3,242.7L285.9,243.0L286.4,243.3L287.0,243.6L287.5,243.9L288.1,244.2L288.6,244.5L289.2,244.8L289.7,245.1L290.3,245.4L290.8,245.7L291.4,246.0L291.9,246.3L292.5,246.6L293.0,246.9L293.6,247.1L294.1,247.4L294.7,247.7L295.2,248.0L295.8,248.3L296.4,248.5L296.9,248.8L297.5,249.1L298.0,249.4L298.6,249.6L299.1,249.9L299.7,250.2L300.2,250.4L300.8,250.7L301.3,251.0L301.9,251.2L302.4,251.5L303.0,251.8L303.5,252.0L304.1,252.3L304.6,252.5L305.2,252.8L305.7,253.0L306.3,253.3L306.8,253.5L307.4,253.8L307.9,254.0L308.5,254.3L309.0,254.5L309.6,254.8L310.1,255.0L310.7,255.3L311.3,255.5L311.8,255.8L312.4,256.0L312.9,256.2L313.5,256.5L314.0,256.7L314.6,256.9L315.1,257.2L315.7,257.4L316.2,257.6L316.8,257.9L317.3,258.1L317.9,258.3L318.4,258.5L319.0,258.8L319.5,259.0L320.1,259.2L320.6,259.4L321.2,259.7L321.7,259.9L322.3,260.1L322.8,260.3L323.4,260.5L323.9,260.8L324.5,261.0L325.1,261.2L325.6,261.4L326.2,261.6L326.7,261.8L327.3,262.0L327.8,262.2L328.4,262.4L328.9,262.6L329.5,262.8L330.0,263.1L330.6,263.3L331.1,263.5L331.7,263.7L332.2,263.9L332.8,264.1L333.3,264.3L333.9,264.5L334.4,264.6L335.0,264.8L335.5,265.0L336.1,265.2L336.6,265.4L337.2,265.6L337.7,265.8L338.3,266.0L338.8,266.2L339.4,266.4L340.0,266.6L340.5,266.7L341.1,266.9L341.6,267.1L342.2,267.3L342.7,267.5L343.3,267.7L343.8,267.8L344.4,268.0L344.9,268.2L345.5,262.7L346.0,257.6L346.6,252.9L347.1,248.5L347.7,244.5L348.2,240.8L348.8,237.4L349.3,234.2L349.9,231.3L350.4,228.7L351.0,226.2L351.5,224.0L352.1,221.9L352.6,220.1L353.2,218.3L353.8,216.8L354.3,215.4L354.9,214.1L355.4,212.9L356.0,211.9L356.5,210.9L357.1,210.1L357.6,209.3L358.2,208.7L358.7,208.1L359.3,207.6L359.8,207.1L360.4,206.7L360.9,206.4L361.5,206.2L362.0,206.0L362.6,205.8L363.1,205.7L363.7,205.6L364.2,205.6L364.8,205.6L365.3,205.6L365.9,205.7L366.4,205.8L367.0,205.9L367.5,206.0L368.1,206.2L368.7,206.4L369.2,206.6L369.8,206.8L370.3,207.0L370.9,207.3L371.4,207.6L372.0,207.8L372.5,208.1L373.1,208.4L373.6,208.8L374.2,209.1L374.7,209.4L375.3,209.8L375.8,210.1L376.4,210.5L376.9,210.8L377.5,211.2L378.0,211.6L378.6,211.9L379.1,212.3L379.7,212.7L380.2,213.1L380.8,213.5L381.3,213.9L381.9,214.2L382.5,214.6L383.0,215.0L383.6,215.4L384.1,215.8L384.7,216.2L385.2,216.6L385.8,217.0L386.3,217.4L386.9,217.8L387.4,218.2L388.0,218.6L388.5,219.0L389.1,219.4L389.6,219.8L390.2,220.2L390.7,220.6L391.3,221.0L391.8,221.4L392.4,221.8L392.9,222.2L393.5,222.6L394.0,223.0L394.6,223.4L395.1,223.8L395.7,224.2L396.2,224.6L396.8,224.9L397.4,225.3L397.9,225.7L398.5,226.1L399.0,226.5L399.6,226.9L400.1,227.2L400.7,227.6L401.2,228.0L401.8,228.4L402.3,228.7L402.9,229.1L403.4,229.5L404.0,229.8L404.5,230.2L405.1,230.6L405.6,230.9L406.2,231.3L406.7,231.6L407.3,232.0L407.8,232.4L408.4,232.7L408.9,233.1L409.5,233.4L410.0,233.8L410.6,234.1L411.2,234.5L411.7,234.8L412.3,235.1L412.8,235.5L413.4,235.8L413.9,236.2L414.5,236.5L415.0,236.8L415.6,237.2L416.1,237.5L416.7,237.8L417.2,238.2L417.8,238.5L418.3,238.8L418.9,239.1L419.4,239.5L420.0,239.8L420.5,240.1L421.1,240.4L421.6,240.7L422.2,241.0L422.7,241.4L423.3,241.7L423.8,242.0L424.4,242.3L424.9,242.6L425.5,242.9L426.1,243.2L426.6,243.5L427.2,243.8L427.7,244.1L428.3,244.4L428.8,244.7L429.4,245.0L429.9,245.3L430.5,245.6L431.0,245.9L431.6,246.1L432.1,246.4L432.7,246.7L433.2,247.0L433.8,247.3L434.3,247.6L434.9,247.9L435.4,248.1L436.0,248.4L436.5,248.7L437.1,249.0L437.6,249.2L438.2,249.5L438.7,249.8L439.3,250.0L439.8,250.3L440.4,250.6L441.0,250.8L441.5,251.1L442.1,251.4L442.6,251.6L443.2,251.9L443.7,252.1L444.3,252.4L444.8,252.7L445.4,252.9L445.9,253.2L446.5,253.4L447.0,253.7L447.6,253.9L448.1,254.2L448.7,254.4L449.2,254.7L449.8,254.9L450.3,255.2L450.9,255.4L451.4,255.6L452.0,255.9L452.5,256.1L453.1,256.4L453.6,256.6L454.2,256.8L454.8,257.1L455.3,257.3L455.9,257.5L456.4,257.8L457.0,258.0L457.5,258.2L458.1,258.4L458.6,258.7L459.2,258.9L459.7,259.1L460.3,259.3L460.8,259.6L461.4,259.8L461.9,260.0L462.5,260.2L463.0,260.4L463.6,260.6L464.1,260.9L464.7,261.1L465.2,261.3L465.8,261.5L466.3,261.7L466.9,261.9L467.4,262.1L468.0,262.3L468.5,262.5L469.1,262.7L469.7,263.0L470.2,263.2L470.8,263.4L471.3,263.6L471.9,263.8L472.4,264.0L473.0,264.2L473.5,264.4L474.1,264.6L474.6,264.7L475.2,264.9L475.7,265.1L476.3,265.3L476.8,265.5L477.4,265.7L477.9,260.2L478.5,255.1L479.0,250.4L479.6,246.1L480.1,242.1L480.7,238.4L481.2,235.0L481.8,231.9L482.3,229.0L482.9,226.3L483.5,223.9L484.0,221.6L484.6,219.6L485.1,217.7L485.7,216.0L486.2,214.5L486.8,213.1L487.3,211.8L487.9,210.6L488.4,209.6L489.0,208.7L489.5,207.8L490.1,207.1L490.6,206.5L491.2,205.9L491.7,205.4L492.3,204.9L492.8,204.6L493.4,204.3L493.9,204.0L494.5,203.8L495.0,203.7L495.6,203.6L496.1,203.5L496.7,203.5L497.2,203.5L497.8,203.5L498.4,203.6L498.9,203.7L499.5,203.8L500.0,204.0L500.6,204.2L501.1,204.4L501.7,204.6L502.2,204.8L502.8,205.1L503.3,205.3L503.9,205.6L504.4,205.9L505.0,206.2L505.5,206.5L506.1,206.8L506.6,207.2L507.2,207.5L507.7,207.9L508.3,208.2L508.8,208.6L509.4,209.0L509.9,209.3L510.5,209.7L511.0,210.1L511.6,210.5L512.2,210.9L512.7,211.3L513.3,211.7L513.8,212.1L514.4,212.5L514.9,212.9L515.5,213.3L516.0,213.7L516.6,214.1L517.1,214.5L517.7,214.9L518.2,215.3L518.8,215.7L519.3,216.1L519.9,216.5L520.4,217.0L521.0,217.4L521.5,217.8L522.1,218.2L522.6,218.6L523.2,219.0L523.7,219.4L524.3,219.8L524.8,220.2L525.4,220.6L525.9,221.0L526.5,221.4L527.1,221.8L527.6,222.2L528.2,222.6L528.7,223.0L529.3,223.4L529.8,223.8L530.4,224.2L530.9,224.6L531.5,225.0L532.0,225.3L532.6,225.7L533.1,226.1L533.7,226.5L534.2,226.9L534.8,227.3L535.3,227.6L535.9,228.0L536.4,228.4L537.0,228.8L537.5,229.1L538.1,229.5L538.6,229.9L539.2,230.2L539.7,230.6L540.3,231.0L540.9,231.3L541.4,231.7L542.0,232.0L542.5,232.4L543.1,232.7L543.6,233.1L544.2,233.5L544.7,233.8L545.3,234.1L545.8,234.5L546.4,234.8L546.9,235.2L547.5,235.5L548.0,235.9L548.6,236.2L549.1,236.5L549.7,236.9L550.2,237.2L550.8,237.5L551.3,237.9L551.9,238.2L552.4,238.5L553.0,238.8L553.5,239.2L554.1,239.5L554.6,239.8L555.2,240.1L555.8,240.4L556.3,240.8L556.9,241.1L557.4,241.4L558.0,241.7L558.5,242.0L559.1,242.3L559.6,242.6L560.2,242.9L560.7,243.2L561.3,243.5L561.8,243.8L562.4,244.1L562.9,244.4L563.5,244.7L564.0,245.0L564.6,245.3L565.1,245.6L565.7,245.9L566.2,246.2L566.8,246.5L567.3,246.8L567.9,247.0L568.4,247.3L569.0,247.6L569.6,247.9L570.1,248.2L570.7,248.4L571.2,248.7L571.8,249.0L572.3,249.3L572.9,249.5L573.4,249.8L574.0,250.1L574.5,250.3L575.1,250.6L575.6,250.9L576.2,251.1L576.7,251.4L577.3,251.7L577.8,251.9L578.4,252.2L578.9,252.4L579.5,252.7L580.0,252.9L580.6,253.2L581.1,253.4L581.7,253.7L582.2,254.0L582.8,254.2L583.3,254.4L583.9,254.7L584.5,254.9L585.0,255.2L585.6,255.4L586.1,255.7L586.7,255.9L587.2,256.1L587.8,256.4L588.3,256.6L588.9,256.9L589.4,257.1L590.0,257.3L590.5,257.5L591.1,257.8L591.6,258.0L592.2,258.2L592.7,258.5L593.3,258.7L593.8,258.9L594.4,259.1L594.9,259.4L595.5,259.6L596.0,259.8L596.6,260.0L597.1,260.2L597.7,260.5L598.2,260.7L598.8,260.9L599.4,261.1L599.9,261.3L600.5,261.5L601.0,261.7L601.6,261.9L602.1,262.2L602.7,262.4L603.2,262.6L603.8,262.8L604.3,263.0L604.9,263.2L605.4,263.4L606.0,263.6L606.5,263.8L607.1,264.0L607.6,264.2L608.2,264.4L608.7,264.6L609.3,264.8L609.8,265.0" fill="none" stroke="#000" stroke-width="3.2" stroke-linejoin="miter" stroke-miterlimit="6" stroke-linecap="butt"/>
<circle cx="86.4" cy="257.4" r="4.2" fill="#000"/>
<circle cx="155.7" cy="257.6" r="4.2" fill="#000"/>
<circle cx="214.9" cy="257.4" r="4.2" fill="#000"/>
<circle cx="317.1" cy="258.0" r="4.2" fill="#000"/>
<rect x="54.4" y="2.4" width="581.5600000000001" height="315.36" fill="none" stroke="#666" stroke-width="1.3"/>
<line x1="49.9" x2="54.4" y1="303.75" y2="303.75" stroke="#3a3a3a" stroke-width="1.45"/>
<text x="45.8" y="308.55" text-anchor="end" class="tk">0</text>
<line x1="49.9" x2="54.4" y1="278.98" y2="278.98" stroke="#3a3a3a" stroke-width="1.45"/>
<text x="45.8" y="283.78" text-anchor="end" class="tk">10</text>
<line x1="49.9" x2="54.4" y1="254.21" y2="254.21" stroke="#3a3a3a" stroke-width="1.45"/>
<text x="45.8" y="259.01" text-anchor="end" class="tk">20</text>
<line x1="49.9" x2="54.4" y1="229.44" y2="229.44" stroke="#3a3a3a" stroke-width="1.45"/>
<text x="45.8" y="234.24" text-anchor="end" class="tk">30</text>
<line x1="49.9" x2="54.4" y1="204.67" y2="204.67" stroke="#3a3a3a" stroke-width="1.45"/>
<text x="45.8" y="209.47" text-anchor="end" class="tk">40</text>
<line x1="49.9" x2="54.4" y1="179.90" y2="179.90" stroke="#3a3a3a" stroke-width="1.45"/>
<text x="45.8" y="184.70" text-anchor="end" class="tk">50</text>
<line x1="49.9" x2="54.4" y1="155.13" y2="155.13" stroke="#3a3a3a" stroke-width="1.45"/>
<text x="45.8" y="159.93" text-anchor="end" class="tk">60</text>
<line x1="49.9" x2="54.4" y1="130.36" y2="130.36" stroke="#3a3a3a" stroke-width="1.45"/>
<text x="45.8" y="135.16" text-anchor="end" class="tk">70</text>
<line x1="49.9" x2="54.4" y1="105.59" y2="105.59" stroke="#3a3a3a" stroke-width="1.45"/>
<text x="45.8" y="110.39" text-anchor="end" class="tk">80</text>
<line x1="49.9" x2="54.4" y1="80.82" y2="80.82" stroke="#3a3a3a" stroke-width="1.45"/>
<text x="45.8" y="85.62" text-anchor="end" class="tk">90</text>
<line x1="49.9" x2="54.4" y1="56.05" y2="56.05" stroke="#3a3a3a" stroke-width="1.45"/>
<text x="45.8" y="60.85" text-anchor="end" class="tk">100</text>
<line x1="49.9" x2="54.4" y1="31.28" y2="31.28" stroke="#3a3a3a" stroke-width="1.45"/>
<text x="45.8" y="36.08" text-anchor="end" class="tk">110</text>
<line x1="49.9" x2="54.4" y1="6.51" y2="6.51" stroke="#3a3a3a" stroke-width="1.45"/>
<text x="45.8" y="11.31" text-anchor="end" class="tk">120</text>
<line y1="317.76" y2="322.26" x1="80.00" x2="80.00" stroke="#3a3a3a" stroke-width="1.45"/>
<text x="80.00" y="335.06" text-anchor="middle" class="tk">0</text>
<line y1="317.76" y2="322.26" x1="146.23" x2="146.23" stroke="#3a3a3a" stroke-width="1.45"/>
<text x="146.23" y="335.06" text-anchor="middle" class="tk">12</text>
<line y1="317.76" y2="322.26" x1="212.46" x2="212.46" stroke="#3a3a3a" stroke-width="1.45"/>
<text x="212.46" y="335.06" text-anchor="middle" class="tk">24</text>
<line y1="317.76" y2="322.26" x1="278.69" x2="278.69" stroke="#3a3a3a" stroke-width="1.45"/>
<text x="278.69" y="335.06" text-anchor="middle" class="tk">36</text>
<line y1="317.76" y2="322.26" x1="344.92" x2="344.92" stroke="#3a3a3a" stroke-width="1.45"/>
<text x="344.92" y="335.06" text-anchor="middle" class="tk">48</text>
<line y1="317.76" y2="322.26" x1="411.15" x2="411.15" stroke="#3a3a3a" stroke-width="1.45"/>
<text x="411.15" y="335.06" text-anchor="middle" class="tk">60</text>
<line y1="317.76" y2="322.26" x1="477.38" x2="477.38" stroke="#3a3a3a" stroke-width="1.45"/>
<text x="477.38" y="335.06" text-anchor="middle" class="tk">72</text>
<line y1="317.76" y2="322.26" x1="543.61" x2="543.61" stroke="#3a3a3a" stroke-width="1.45"/>
<text x="543.61" y="335.06" text-anchor="middle" class="tk">84</text>
<line y1="317.76" y2="322.26" x1="609.84" x2="609.84" stroke="#3a3a3a" stroke-width="1.45"/>
<text x="609.84" y="335.06" text-anchor="middle" class="tk">96</text>
<line x1="635.96" x2="640.46" y1="303.75" y2="303.75" stroke="#3a3a3a" stroke-width="1.45"/>
<text x="644.76" y="308.55" text-anchor="start" class="tk">0</text>
<line x1="635.96" x2="640.46" y1="286.90" y2="286.90" stroke="#3a3a3a" stroke-width="1.45"/>
<text x="644.76" y="291.70" text-anchor="start" class="tk">20</text>
<line x1="635.96" x2="640.46" y1="270.05" y2="270.05" stroke="#3a3a3a" stroke-width="1.45"/>
<text x="644.76" y="274.85" text-anchor="start" class="tk">40</text>
<line x1="635.96" x2="640.46" y1="253.20" y2="253.20" stroke="#3a3a3a" stroke-width="1.45"/>
<text x="644.76" y="258.00" text-anchor="start" class="tk">60</text>
<line x1="635.96" x2="640.46" y1="236.35" y2="236.35" stroke="#3a3a3a" stroke-width="1.45"/>
<text x="644.76" y="241.15" text-anchor="start" class="tk">80</text>
<line x1="635.96" x2="640.46" y1="219.50" y2="219.50" stroke="#3a3a3a" stroke-width="1.45"/>
<text x="644.76" y="224.30" text-anchor="start" class="tk">100</text>
<line x1="635.96" x2="640.46" y1="202.65" y2="202.65" stroke="#3a3a3a" stroke-width="1.45"/>
<text x="644.76" y="207.45" text-anchor="start" class="tk">120</text>
<text x="77.7" y="309.6" class="ann" textLength="270">| dosing interval 1 | dosing interval 2 |</text>
<text x="345.6" y="354" text-anchor="middle" class="ti" textLength="61">Time (h)</text>
<text transform="translate(14.6,160.4) rotate(-90)" text-anchor="middle" class="ti" textLength="79.2">ΔQTc (ms)</text>
<text transform="translate(672.2,161) rotate(90)" text-anchor="middle" class="ti" textLength="100">Concentration</text>
<text x="65.3" y="396.7" class="ti">τ</text><text x="73.1" y="399.2" class="ti" style="font-size:11px">0</text>
<line x1="90.1" x2="110.6" y1="393.3" y2="393.3" stroke="#F8766D" stroke-width="1.7"/>
<line x1="143.1" x2="163.6" y1="393.3" y2="393.3" stroke="#D89000" stroke-width="1.7"/>
<line x1="196.1" x2="216.6" y1="393.3" y2="393.3" stroke="#A3A500" stroke-width="1.7"/>
<line x1="249.2" x2="269.7" y1="393.3" y2="393.3" stroke="#39B600" stroke-width="1.7"/>
<line x1="302.2" x2="322.7" y1="393.3" y2="393.3" stroke="#00BF7D" stroke-width="1.7"/>
<line x1="355.6" x2="376.1" y1="393.3" y2="393.3" stroke="#00BFC4" stroke-width="1.7"/>
<line x1="408.9" x2="429.4" y1="393.3" y2="393.3" stroke="#00B0F6" stroke-width="1.7"/>
<line x1="465.7" x2="486.2" y1="393.3" y2="393.3" stroke="#9590FF" stroke-width="1.7"/>
<line x1="522.2" x2="542.7" y1="393.3" y2="393.3" stroke="#E76BF3" stroke-width="1.7"/>
<line x1="578.9" x2="599.4" y1="393.3" y2="393.3" stroke="#FF62BC" stroke-width="1.7"/>
<text x="128.6" y="397.7" text-anchor="middle" class="lg">1</text>
<text x="181.6" y="397.7" text-anchor="middle" class="lg">2</text>
<text x="234.9" y="397.7" text-anchor="middle" class="lg">3</text>
<text x="287.8" y="397.7" text-anchor="middle" class="lg">4</text>
<text x="341" y="397.7" text-anchor="middle" class="lg">6</text>
<text x="393.9" y="397.7" text-anchor="middle" class="lg">8</text>
<text x="447.4" y="397.7" text-anchor="middle" class="lg">10</text>
<text x="504" y="397.7" text-anchor="middle" class="lg">15</text>
<text x="560.3" y="397.7" text-anchor="middle" class="lg">20</text>
<text x="617.4" y="397.7" text-anchor="middle" class="lg">25</text>
</svg></body></html>
